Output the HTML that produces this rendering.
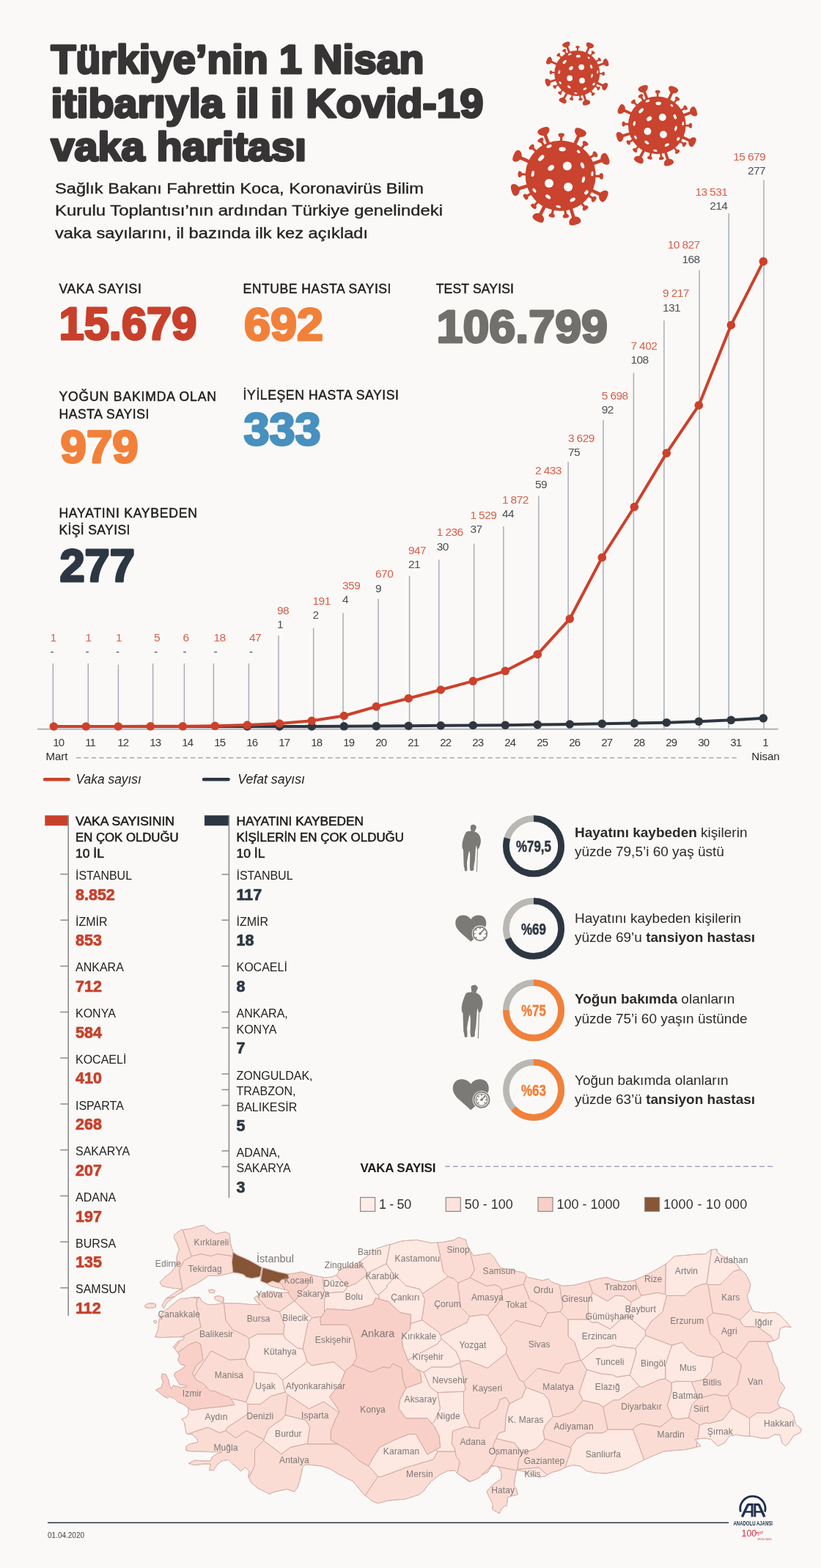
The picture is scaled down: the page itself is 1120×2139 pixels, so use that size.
<!DOCTYPE html>
<html lang="tr"><head><meta charset="utf-8"><title>Türkiye'nin 1 Nisan itibarıyla il il Kovid-19 vaka haritası</title>
<style>html,body{margin:0;padding:0;background:#faf9f7;}#page{position:relative;width:1120px;height:2139px;overflow:hidden;background:#faf9f7;font-family:"Liberation Sans",sans-serif;}</style>
</head><body><div id="page"><svg width="1120" height="2139" viewBox="0 0 1120 2139" style="position:absolute;left:0;top:0"><defs><symbol id="vir" viewBox="-75 -75 150 150" overflow="visible"><g fill="#c9432e"><g transform="rotate(-110.7)"><rect x="40" y="-2.3" width="22" height="4.6"/><path d="M59 -2.3 Q61.5 -8.5 66.5 -8.3 Q70 -7.8 70 0 Q70 7.8 66.5 8.3 Q61.5 8.5 59 2.3Z"/></g><g transform="rotate(-65.5)"><rect x="40" y="-2.3" width="22" height="4.6"/><path d="M59 -2.3 Q61.5 -8.5 66.5 -8.3 Q70 -7.8 70 0 Q70 7.8 66.5 8.3 Q61.5 8.5 59 2.3Z"/></g><g transform="rotate(-155.8)"><rect x="40" y="-2.3" width="22" height="4.6"/><path d="M59 -2.3 Q61.5 -8.5 66.5 -8.3 Q70 -7.8 70 0 Q70 7.8 66.5 8.3 Q61.5 8.5 59 2.3Z"/></g><g transform="rotate(-20.4)"><rect x="40" y="-2.3" width="22" height="4.6"/><path d="M59 -2.3 Q61.5 -8.5 66.5 -8.3 Q70 -7.8 70 0 Q70 7.8 66.5 8.3 Q61.5 8.5 59 2.3Z"/></g><g transform="rotate(162.8)"><rect x="40" y="-2.3" width="22" height="4.6"/><path d="M59 -2.3 Q61.5 -8.5 66.5 -8.3 Q70 -7.8 70 0 Q70 7.8 66.5 8.3 Q61.5 8.5 59 2.3Z"/></g><g transform="rotate(25.3)"><rect x="40" y="-2.3" width="22" height="4.6"/><path d="M59 -2.3 Q61.5 -8.5 66.5 -8.3 Q70 -7.8 70 0 Q70 7.8 66.5 8.3 Q61.5 8.5 59 2.3Z"/></g><g transform="rotate(117.6)"><rect x="40" y="-2.3" width="22" height="4.6"/><path d="M59 -2.3 Q61.5 -8.5 66.5 -8.3 Q70 -7.8 70 0 Q70 7.8 66.5 8.3 Q61.5 8.5 59 2.3Z"/></g><g transform="rotate(72.6)"><rect x="40" y="-2.3" width="22" height="4.6"/><path d="M59 -2.3 Q61.5 -8.5 66.5 -8.3 Q70 -7.8 70 0 Q70 7.8 66.5 8.3 Q61.5 8.5 59 2.3Z"/></g><g transform="rotate(-88.9)"><rect x="40" y="-1.6" width="14.5" height="3.2"/><path d="M52.5 -1.4 Q53.5 -4.3 56.2 -4.3 Q58.2 -4 58.2 0 Q58.2 4 56.2 4.3 Q53.5 4.3 52.5 1.4Z"/></g><g transform="rotate(-119.2)"><rect x="40" y="-1.6" width="14.5" height="3.2"/><path d="M52.5 -1.4 Q53.5 -4.3 56.2 -4.3 Q58.2 -4 58.2 0 Q58.2 4 56.2 4.3 Q53.5 4.3 52.5 1.4Z"/></g><g transform="rotate(-135.2)"><rect x="40" y="-1.6" width="14.5" height="3.2"/><path d="M52.5 -1.4 Q53.5 -4.3 56.2 -4.3 Q58.2 -4 58.2 0 Q58.2 4 56.2 4.3 Q53.5 4.3 52.5 1.4Z"/></g><g transform="rotate(-52.5)"><rect x="40" y="-1.6" width="14.5" height="3.2"/><path d="M52.5 -1.4 Q53.5 -4.3 56.2 -4.3 Q58.2 -4 58.2 0 Q58.2 4 56.2 4.3 Q53.5 4.3 52.5 1.4Z"/></g><g transform="rotate(-31.7)"><rect x="40" y="-1.6" width="14.5" height="3.2"/><path d="M52.5 -1.4 Q53.5 -4.3 56.2 -4.3 Q58.2 -4 58.2 0 Q58.2 4 56.2 4.3 Q53.5 4.3 52.5 1.4Z"/></g><g transform="rotate(-177.9)"><rect x="40" y="-1.6" width="14.5" height="3.2"/><path d="M52.5 -1.4 Q53.5 -4.3 56.2 -4.3 Q58.2 -4 58.2 0 Q58.2 4 56.2 4.3 Q53.5 4.3 52.5 1.4Z"/></g><g transform="rotate(0.7)"><rect x="40" y="-1.6" width="14.5" height="3.2"/><path d="M52.5 -1.4 Q53.5 -4.3 56.2 -4.3 Q58.2 -4 58.2 0 Q58.2 4 56.2 4.3 Q53.5 4.3 52.5 1.4Z"/></g><g transform="rotate(148.8)"><rect x="40" y="-1.6" width="14.5" height="3.2"/><path d="M52.5 -1.4 Q53.5 -4.3 56.2 -4.3 Q58.2 -4 58.2 0 Q58.2 4 56.2 4.3 Q53.5 4.3 52.5 1.4Z"/></g><g transform="rotate(35.1)"><rect x="40" y="-1.6" width="14.5" height="3.2"/><path d="M52.5 -1.4 Q53.5 -4.3 56.2 -4.3 Q58.2 -4 58.2 0 Q58.2 4 56.2 4.3 Q53.5 4.3 52.5 1.4Z"/></g><g transform="rotate(131.2)"><rect x="40" y="-1.6" width="14.5" height="3.2"/><path d="M52.5 -1.4 Q53.5 -4.3 56.2 -4.3 Q58.2 -4 58.2 0 Q58.2 4 56.2 4.3 Q53.5 4.3 52.5 1.4Z"/></g><g transform="rotate(52.5)"><rect x="40" y="-1.6" width="14.5" height="3.2"/><path d="M52.5 -1.4 Q53.5 -4.3 56.2 -4.3 Q58.2 -4 58.2 0 Q58.2 4 56.2 4.3 Q53.5 4.3 52.5 1.4Z"/></g><g transform="rotate(102.4)"><rect x="40" y="-1.6" width="14.5" height="3.2"/><path d="M52.5 -1.4 Q53.5 -4.3 56.2 -4.3 Q58.2 -4 58.2 0 Q58.2 4 56.2 4.3 Q53.5 4.3 52.5 1.4Z"/></g><g transform="rotate(82.5)"><rect x="40" y="-1.6" width="14.5" height="3.2"/><path d="M52.5 -1.4 Q53.5 -4.3 56.2 -4.3 Q58.2 -4 58.2 0 Q58.2 4 56.2 4.3 Q53.5 4.3 52.5 1.4Z"/></g><circle r="48"/></g><g fill="#fbfaf8"><ellipse cx="9.11" cy="-13.12" rx="6.03" ry="6.03" transform="rotate(0 9.11 -13.12)"/><ellipse cx="-15.67" cy="10.31" rx="6.03" ry="6.03" transform="rotate(0 -15.67 10.31)"/><ellipse cx="10.45" cy="15.40" rx="6.03" ry="6.03" transform="rotate(0 10.45 15.40)"/><ellipse cx="-12.99" cy="-10.71" rx="4.82" ry="3.48" transform="rotate(-35 -12.99 -10.71)"/><ellipse cx="2.41" cy="-36.16" rx="4.69" ry="2.95" transform="rotate(0 2.41 -36.16)"/><ellipse cx="-15.67" cy="-40.18" rx="3.75" ry="2.01" transform="rotate(-20 -15.67 -40.18)"/><ellipse cx="-26.38" cy="-24.11" rx="5.09" ry="2.68" transform="rotate(-45 -26.38 -24.11)"/><ellipse cx="24.51" cy="-32.81" rx="2.68" ry="1.74" transform="rotate(40 24.51 -32.81)"/><ellipse cx="29.86" cy="-14.06" rx="2.28" ry="4.29" transform="rotate(-20 29.86 -14.06)"/><ellipse cx="-37.77" cy="-2.68" rx="2.01" ry="4.02" transform="rotate(10 -37.77 -2.68)"/><ellipse cx="43.26" cy="-2.68" rx="1.61" ry="3.35" transform="rotate(5 43.26 -2.68)"/><ellipse cx="31.20" cy="5.36" rx="2.01" ry="4.29" transform="rotate(15 31.20 5.36)"/><ellipse cx="-35.76" cy="20.09" rx="1.87" ry="3.35" transform="rotate(-35 -35.76 20.09)"/><ellipse cx="35.22" cy="22.77" rx="2.28" ry="3.35" transform="rotate(40 35.22 22.77)"/><ellipse cx="-17.01" cy="28.79" rx="4.02" ry="2.28" transform="rotate(35 -17.01 28.79)"/><ellipse cx="16.47" cy="32.81" rx="4.02" ry="2.28" transform="rotate(-30 16.47 32.81)"/><ellipse cx="-2.95" cy="42.19" rx="3.35" ry="1.74" transform="rotate(10 -2.95 42.19)"/></g></symbol></defs><use href="#vir" x="738.86" y="51.56" width="96.88" height="96.88"/><use href="#vir" x="834.74" y="109.24" width="123.12" height="123.12"/><use href="#vir" x="689.70" y="164.70" width="150.00" height="150.00"/><text x="69.5" y="100.4" style="font-family:Liberation Sans,sans-serif;font-weight:bold;font-size:56px;fill:#363435;stroke:#363435;stroke-width:3.2px;stroke-linejoin:round" textLength="509" lengthAdjust="spacingAndGlyphs">Türkiye&#8217;nin 1 Nisan</text><text x="69.5" y="160" style="font-family:Liberation Sans,sans-serif;font-weight:bold;font-size:56px;fill:#363435;stroke:#363435;stroke-width:3.2px;stroke-linejoin:round" textLength="590" lengthAdjust="spacingAndGlyphs">itibarıyla il il Kovid-19</text><text x="69.5" y="219.3" style="font-family:Liberation Sans,sans-serif;font-weight:bold;font-size:56px;fill:#363435;stroke:#363435;stroke-width:3.2px;stroke-linejoin:round" textLength="348.5" lengthAdjust="spacingAndGlyphs">vaka haritası</text><text x="75" y="264" style="font-family:Liberation Sans,sans-serif;font-size:20.5px;fill:#232323;stroke:#232323;stroke-width:0.35px" textLength="503" lengthAdjust="spacingAndGlyphs">Sağlık Bakanı Fahrettin Koca, Koronavirüs Bilim</text><text x="75" y="294.3" style="font-family:Liberation Sans,sans-serif;font-size:20.5px;fill:#232323;stroke:#232323;stroke-width:0.35px" textLength="529" lengthAdjust="spacingAndGlyphs">Kurulu Toplantısı&#8217;nın ardından Türkiye genelindeki</text><text x="75" y="324.6" style="font-family:Liberation Sans,sans-serif;font-size:20.5px;fill:#232323;stroke:#232323;stroke-width:0.35px" textLength="427" lengthAdjust="spacingAndGlyphs">vaka sayılarını, il bazında ilk kez açıkladı</text><text x="80.4" y="400" style="font-family:Liberation Sans,sans-serif;font-size:17.6px;fill:#1c1c1c;stroke:#1c1c1c;stroke-width:0.45px" textLength="112.6" lengthAdjust="spacing">VAKA SAYISI</text><text x="80.5" y="463.2" style="font-family:Liberation Sans,sans-serif;font-weight:bold;font-size:62.5px;fill:#c8402b;stroke:#c8402b;stroke-width:3px;stroke-linejoin:round" textLength="188" lengthAdjust="spacingAndGlyphs">15.679</text><text x="331.6" y="400" style="font-family:Liberation Sans,sans-serif;font-size:17.6px;fill:#1c1c1c;stroke:#1c1c1c;stroke-width:0.45px" textLength="201.9" lengthAdjust="spacing">ENTUBE HASTA SAYISI</text><text x="333" y="464.4" style="font-family:Liberation Sans,sans-serif;font-weight:bold;font-size:62.5px;fill:#f1813a;stroke:#f1813a;stroke-width:3px;stroke-linejoin:round" textLength="108" lengthAdjust="spacingAndGlyphs">692</text><text x="594.7" y="400" style="font-family:Liberation Sans,sans-serif;font-size:17.6px;fill:#1c1c1c;stroke:#1c1c1c;stroke-width:0.45px" textLength="106.3" lengthAdjust="spacing">TEST SAYISI</text><text x="595.5" y="466.7" style="font-family:Liberation Sans,sans-serif;font-weight:bold;font-size:62.5px;fill:#71706c;stroke:#71706c;stroke-width:3px;stroke-linejoin:round" textLength="233.5" lengthAdjust="spacingAndGlyphs">106.799</text><text x="80.4" y="547.2" style="font-family:Liberation Sans,sans-serif;font-size:17.6px;fill:#1c1c1c;stroke:#1c1c1c;stroke-width:0.45px" textLength="214.6" lengthAdjust="spacing">YOĞUN BAKIMDA OLAN</text><text x="80.4" y="570.6" style="font-family:Liberation Sans,sans-serif;font-size:17.6px;fill:#1c1c1c;stroke:#1c1c1c;stroke-width:0.45px" textLength="123" lengthAdjust="spacing">HASTA SAYISI</text><text x="82.6" y="631" style="font-family:Liberation Sans,sans-serif;font-weight:bold;font-size:62.5px;fill:#f1813a;stroke:#f1813a;stroke-width:3px;stroke-linejoin:round" textLength="106" lengthAdjust="spacingAndGlyphs">979</text><text x="331.6" y="545" style="font-family:Liberation Sans,sans-serif;font-size:17.6px;fill:#1c1c1c;stroke:#1c1c1c;stroke-width:0.45px" textLength="212.4" lengthAdjust="spacing">İYİLEŞEN HASTA SAYISI</text><text x="332.6" y="607" style="font-family:Liberation Sans,sans-serif;font-weight:bold;font-size:62.5px;fill:#4790bf;stroke:#4790bf;stroke-width:3px;stroke-linejoin:round" textLength="105" lengthAdjust="spacingAndGlyphs">333</text><text x="80.4" y="705.5" style="font-family:Liberation Sans,sans-serif;font-size:17.6px;fill:#1c1c1c;stroke:#1c1c1c;stroke-width:0.45px" textLength="188.6" lengthAdjust="spacing">HAYATINI KAYBEDEN</text><text x="80.4" y="729.4" style="font-family:Liberation Sans,sans-serif;font-size:17.6px;fill:#1c1c1c;stroke:#1c1c1c;stroke-width:0.45px" textLength="97" lengthAdjust="spacing">KİŞİ SAYISI</text><text x="81.4" y="792.6" style="font-family:Liberation Sans,sans-serif;font-weight:bold;font-size:62.5px;fill:#2d3743;stroke:#2d3743;stroke-width:3px;stroke-linejoin:round" textLength="102.6" lengthAdjust="spacingAndGlyphs">277</text><line x1="72.3" y1="905" x2="72.3" y2="994.5" stroke="#a7adb8" stroke-width="1.5"/><line x1="120.3" y1="905" x2="120.3" y2="994.5" stroke="#a7adb8" stroke-width="1.5"/><line x1="161.4" y1="906.6" x2="161.4" y2="994.5" stroke="#a7adb8" stroke-width="1.5"/><line x1="208.6" y1="905" x2="208.6" y2="994.5" stroke="#a7adb8" stroke-width="1.5"/><line x1="251.4" y1="905" x2="251.4" y2="994.5" stroke="#a7adb8" stroke-width="1.5"/><line x1="291.4" y1="905" x2="291.4" y2="994.5" stroke="#a7adb8" stroke-width="1.5"/><line x1="339.4" y1="905" x2="339.4" y2="994.5" stroke="#a7adb8" stroke-width="1.5"/><line x1="380" y1="867" x2="380" y2="994.5" stroke="#a7adb8" stroke-width="1.5"/><line x1="427.7" y1="856.6" x2="427.7" y2="994.5" stroke="#a7adb8" stroke-width="1.5"/><line x1="468" y1="836" x2="468" y2="994.5" stroke="#a7adb8" stroke-width="1.5"/><line x1="516" y1="816.8" x2="516" y2="994.5" stroke="#a7adb8" stroke-width="1.5"/><line x1="558.6" y1="785.7" x2="558.6" y2="994.5" stroke="#a7adb8" stroke-width="1.5"/><line x1="598.8" y1="763.4" x2="598.8" y2="994.5" stroke="#a7adb8" stroke-width="1.5"/><line x1="646.6" y1="741.4" x2="646.6" y2="994.5" stroke="#a7adb8" stroke-width="1.5"/><line x1="686.9" y1="718" x2="686.9" y2="994.5" stroke="#a7adb8" stroke-width="1.5"/><line x1="734.9" y1="676.6" x2="734.9" y2="994.5" stroke="#a7adb8" stroke-width="1.5"/><line x1="775.1" y1="630" x2="775.1" y2="994.5" stroke="#a7adb8" stroke-width="1.5"/><line x1="822.9" y1="573" x2="822.9" y2="994.5" stroke="#a7adb8" stroke-width="1.5"/><line x1="864.4" y1="508.4" x2="864.4" y2="994.5" stroke="#a7adb8" stroke-width="1.5"/><line x1="905.9" y1="437.2" x2="905.9" y2="994.5" stroke="#a7adb8" stroke-width="1.5"/><line x1="954.1" y1="368.2" x2="954.1" y2="994.5" stroke="#a7adb8" stroke-width="1.5"/><line x1="994.2" y1="290.9" x2="994.2" y2="994.5" stroke="#a7adb8" stroke-width="1.5"/><line x1="1042" y1="245.4" x2="1042" y2="994.5" stroke="#a7adb8" stroke-width="1.5"/><line x1="51" y1="994.6" x2="1061.5" y2="994.6" stroke="#a3a9b4" stroke-width="1.6"/><polyline points="73.3,991.0 117.3,991.0 161.3,991.0 205.3,991.0 249.3,991.0 293.3,991.0 337.3,991.0 381.3,991.0 425.3,990.9 469.3,990.8 513.3,990.6 557.3,990.2 601.3,989.8 645.3,989.5 689.3,989.2 733.3,988.6 777.3,988.0 821.3,987.3 865.3,986.6 909.3,985.7 953.3,984.2 997.3,982.3 1041.3,979.8" fill="none" stroke="#2e3640" stroke-width="4" stroke-linejoin="round"/><g fill="#2e3640"><circle cx="337.3" cy="991.0" r="5.8"/><circle cx="381.3" cy="991.0" r="5.8"/><circle cx="425.3" cy="990.9" r="5.8"/><circle cx="469.3" cy="990.8" r="5.8"/><circle cx="513.3" cy="990.6" r="5.8"/><circle cx="557.3" cy="990.2" r="5.8"/><circle cx="601.3" cy="989.8" r="5.8"/><circle cx="645.3" cy="989.5" r="5.8"/><circle cx="689.3" cy="989.2" r="5.8"/><circle cx="733.3" cy="988.6" r="5.8"/><circle cx="777.3" cy="988.0" r="5.8"/><circle cx="821.3" cy="987.3" r="5.8"/><circle cx="865.3" cy="986.6" r="5.8"/><circle cx="909.3" cy="985.7" r="5.8"/><circle cx="953.3" cy="984.2" r="5.8"/><circle cx="997.3" cy="982.3" r="5.8"/><circle cx="1041.3" cy="979.8" r="5.8"/></g><polyline points="73.3,991.0 117.3,991.0 161.3,991.0 205.3,990.8 249.3,990.8 293.3,990.3 337.3,989.1 381.3,987.0 425.3,983.3 469.3,976.5 513.3,963.9 557.3,952.7 601.3,941.0 645.3,929.1 689.3,915.3 733.3,892.6 777.3,844.2 821.3,760.5 865.3,691.5 909.3,618.1 953.3,552.9 997.3,443.5 1041.3,356.6" fill="none" stroke="#cc412b" stroke-width="4" stroke-linejoin="round"/><g fill="#cc412b"><circle cx="73.3" cy="991.0" r="5.8"/><circle cx="117.3" cy="991.0" r="5.8"/><circle cx="161.3" cy="991.0" r="5.8"/><circle cx="205.3" cy="990.8" r="5.8"/><circle cx="249.3" cy="990.8" r="5.8"/><circle cx="293.3" cy="990.3" r="5.8"/><circle cx="337.3" cy="989.1" r="5.8"/><circle cx="381.3" cy="987.0" r="5.8"/><circle cx="425.3" cy="983.3" r="5.8"/><circle cx="469.3" cy="976.5" r="5.8"/><circle cx="513.3" cy="963.9" r="5.8"/><circle cx="557.3" cy="952.7" r="5.8"/><circle cx="601.3" cy="941.0" r="5.8"/><circle cx="645.3" cy="929.1" r="5.8"/><circle cx="689.3" cy="915.3" r="5.8"/><circle cx="733.3" cy="892.6" r="5.8"/><circle cx="777.3" cy="844.2" r="5.8"/><circle cx="821.3" cy="760.5" r="5.8"/><circle cx="865.3" cy="691.5" r="5.8"/><circle cx="909.3" cy="618.1" r="5.8"/><circle cx="953.3" cy="552.9" r="5.8"/><circle cx="997.3" cy="443.5" r="5.8"/><circle cx="1041.3" cy="356.6" r="5.8"/></g><text x="68.6" y="875" text-anchor="start" style="font-family:Liberation Sans,sans-serif;font-size:15.5px;fill:#d95f4a;letter-spacing:-0.6px">1</text><text x="68.6" y="894.2" text-anchor="start" style="font-family:Liberation Sans,sans-serif;font-size:15.5px;fill:#4a4f56;letter-spacing:-0.6px">-</text><text x="116.6" y="875" text-anchor="start" style="font-family:Liberation Sans,sans-serif;font-size:15.5px;fill:#d95f4a;letter-spacing:-0.6px">1</text><text x="116.6" y="894.2" text-anchor="start" style="font-family:Liberation Sans,sans-serif;font-size:15.5px;fill:#4a4f56;letter-spacing:-0.6px">-</text><text x="158" y="875" text-anchor="start" style="font-family:Liberation Sans,sans-serif;font-size:15.5px;fill:#d95f4a;letter-spacing:-0.6px">1</text><text x="158" y="894.2" text-anchor="start" style="font-family:Liberation Sans,sans-serif;font-size:15.5px;fill:#4a4f56;letter-spacing:-0.6px">-</text><text x="210" y="875" text-anchor="start" style="font-family:Liberation Sans,sans-serif;font-size:15.5px;fill:#d95f4a;letter-spacing:-0.6px">5</text><text x="210" y="894.2" text-anchor="start" style="font-family:Liberation Sans,sans-serif;font-size:15.5px;fill:#4a4f56;letter-spacing:-0.6px">-</text><text x="249.5" y="875" text-anchor="start" style="font-family:Liberation Sans,sans-serif;font-size:15.5px;fill:#d95f4a;letter-spacing:-0.6px">6</text><text x="249.5" y="894.2" text-anchor="start" style="font-family:Liberation Sans,sans-serif;font-size:15.5px;fill:#4a4f56;letter-spacing:-0.6px">-</text><text x="291.4" y="875" text-anchor="start" style="font-family:Liberation Sans,sans-serif;font-size:15.5px;fill:#d95f4a;letter-spacing:-0.6px">18</text><text x="291.4" y="894.2" text-anchor="start" style="font-family:Liberation Sans,sans-serif;font-size:15.5px;fill:#4a4f56;letter-spacing:-0.6px">-</text><text x="340" y="875" text-anchor="start" style="font-family:Liberation Sans,sans-serif;font-size:15.5px;fill:#d95f4a;letter-spacing:-0.6px">47</text><text x="340" y="894.2" text-anchor="start" style="font-family:Liberation Sans,sans-serif;font-size:15.5px;fill:#4a4f56;letter-spacing:-0.6px">-</text><text x="378" y="837.7" text-anchor="start" style="font-family:Liberation Sans,sans-serif;font-size:15.5px;fill:#d95f4a;letter-spacing:-0.6px">98</text><text x="378" y="856.9000000000001" text-anchor="start" style="font-family:Liberation Sans,sans-serif;font-size:15.5px;fill:#4a4f56;letter-spacing:-0.6px">1</text><text x="426.6" y="825" text-anchor="start" style="font-family:Liberation Sans,sans-serif;font-size:15.5px;fill:#d95f4a;letter-spacing:-0.6px">191</text><text x="426.6" y="844.2" text-anchor="start" style="font-family:Liberation Sans,sans-serif;font-size:15.5px;fill:#4a4f56;letter-spacing:-0.6px">2</text><text x="467.1" y="803.6" text-anchor="start" style="font-family:Liberation Sans,sans-serif;font-size:15.5px;fill:#d95f4a;letter-spacing:-0.6px">359</text><text x="467.1" y="822.8000000000001" text-anchor="start" style="font-family:Liberation Sans,sans-serif;font-size:15.5px;fill:#4a4f56;letter-spacing:-0.6px">4</text><text x="512.1" y="788.3" text-anchor="start" style="font-family:Liberation Sans,sans-serif;font-size:15.5px;fill:#d95f4a;letter-spacing:-0.6px">670</text><text x="512.1" y="807.5" text-anchor="start" style="font-family:Liberation Sans,sans-serif;font-size:15.5px;fill:#4a4f56;letter-spacing:-0.6px">9</text><text x="557" y="755.7" text-anchor="start" style="font-family:Liberation Sans,sans-serif;font-size:15.5px;fill:#d95f4a;letter-spacing:-0.6px">947</text><text x="557" y="774.9000000000001" text-anchor="start" style="font-family:Liberation Sans,sans-serif;font-size:15.5px;fill:#4a4f56;letter-spacing:-0.6px">21</text><text x="595.7" y="731.4" text-anchor="start" style="font-family:Liberation Sans,sans-serif;font-size:15.5px;fill:#d95f4a;letter-spacing:-0.6px">1 236</text><text x="595.7" y="750.6" text-anchor="start" style="font-family:Liberation Sans,sans-serif;font-size:15.5px;fill:#4a4f56;letter-spacing:-0.6px">30</text><text x="641.4" y="707.7" text-anchor="start" style="font-family:Liberation Sans,sans-serif;font-size:15.5px;fill:#d95f4a;letter-spacing:-0.6px">1 529</text><text x="641.4" y="726.9000000000001" text-anchor="start" style="font-family:Liberation Sans,sans-serif;font-size:15.5px;fill:#4a4f56;letter-spacing:-0.6px">37</text><text x="684.9" y="687" text-anchor="start" style="font-family:Liberation Sans,sans-serif;font-size:15.5px;fill:#d95f4a;letter-spacing:-0.6px">1 872</text><text x="684.9" y="706.2" text-anchor="start" style="font-family:Liberation Sans,sans-serif;font-size:15.5px;fill:#4a4f56;letter-spacing:-0.6px">44</text><text x="730" y="646.6" text-anchor="start" style="font-family:Liberation Sans,sans-serif;font-size:15.5px;fill:#d95f4a;letter-spacing:-0.6px">2 433</text><text x="730" y="665.8000000000001" text-anchor="start" style="font-family:Liberation Sans,sans-serif;font-size:15.5px;fill:#4a4f56;letter-spacing:-0.6px">59</text><text x="774.9" y="602.9" text-anchor="start" style="font-family:Liberation Sans,sans-serif;font-size:15.5px;fill:#d95f4a;letter-spacing:-0.6px">3 629</text><text x="774.9" y="622.1" text-anchor="start" style="font-family:Liberation Sans,sans-serif;font-size:15.5px;fill:#4a4f56;letter-spacing:-0.6px">75</text><text x="820.7" y="545.1" text-anchor="start" style="font-family:Liberation Sans,sans-serif;font-size:15.5px;fill:#d95f4a;letter-spacing:-0.6px">5 698</text><text x="820.7" y="564.3000000000001" text-anchor="start" style="font-family:Liberation Sans,sans-serif;font-size:15.5px;fill:#4a4f56;letter-spacing:-0.6px">92</text><text x="860.4" y="476.8" text-anchor="start" style="font-family:Liberation Sans,sans-serif;font-size:15.5px;fill:#d95f4a;letter-spacing:-0.6px">7 402</text><text x="860.4" y="496.0" text-anchor="start" style="font-family:Liberation Sans,sans-serif;font-size:15.5px;fill:#4a4f56;letter-spacing:-0.6px">108</text><text x="904" y="405.3" text-anchor="start" style="font-family:Liberation Sans,sans-serif;font-size:15.5px;fill:#d95f4a;letter-spacing:-0.6px">9 217</text><text x="904" y="424.5" text-anchor="start" style="font-family:Liberation Sans,sans-serif;font-size:15.5px;fill:#4a4f56;letter-spacing:-0.6px">131</text><text x="954.5" y="339.4" text-anchor="end" style="font-family:Liberation Sans,sans-serif;font-size:15.5px;fill:#d95f4a;letter-spacing:-0.6px">10 827</text><text x="954.5" y="358.59999999999997" text-anchor="end" style="font-family:Liberation Sans,sans-serif;font-size:15.5px;fill:#4a4f56;letter-spacing:-0.6px">168</text><text x="992.2" y="266.6" text-anchor="end" style="font-family:Liberation Sans,sans-serif;font-size:15.5px;fill:#d95f4a;letter-spacing:-0.6px">13 531</text><text x="992.2" y="285.8" text-anchor="end" style="font-family:Liberation Sans,sans-serif;font-size:15.5px;fill:#4a4f56;letter-spacing:-0.6px">214</text><text x="1044" y="219" text-anchor="end" style="font-family:Liberation Sans,sans-serif;font-size:15.5px;fill:#d95f4a;letter-spacing:-0.6px">15 679</text><text x="1044" y="238.2" text-anchor="end" style="font-family:Liberation Sans,sans-serif;font-size:15.5px;fill:#4a4f56;letter-spacing:-0.6px">277</text><text x="72.3" y="1018.2" style="font-family:Liberation Sans,sans-serif;font-size:15px;fill:#3a3a3a;letter-spacing:-1px">10</text><text x="116.3" y="1018.2" style="font-family:Liberation Sans,sans-serif;font-size:15px;fill:#3a3a3a;letter-spacing:-1px">11</text><text x="160.3" y="1018.2" style="font-family:Liberation Sans,sans-serif;font-size:15px;fill:#3a3a3a;letter-spacing:-1px">12</text><text x="204.3" y="1018.2" style="font-family:Liberation Sans,sans-serif;font-size:15px;fill:#3a3a3a;letter-spacing:-1px">13</text><text x="248.3" y="1018.2" style="font-family:Liberation Sans,sans-serif;font-size:15px;fill:#3a3a3a;letter-spacing:-1px">14</text><text x="292.3" y="1018.2" style="font-family:Liberation Sans,sans-serif;font-size:15px;fill:#3a3a3a;letter-spacing:-1px">15</text><text x="336.3" y="1018.2" style="font-family:Liberation Sans,sans-serif;font-size:15px;fill:#3a3a3a;letter-spacing:-1px">16</text><text x="380.3" y="1018.2" style="font-family:Liberation Sans,sans-serif;font-size:15px;fill:#3a3a3a;letter-spacing:-1px">17</text><text x="424.3" y="1018.2" style="font-family:Liberation Sans,sans-serif;font-size:15px;fill:#3a3a3a;letter-spacing:-1px">18</text><text x="468.3" y="1018.2" style="font-family:Liberation Sans,sans-serif;font-size:15px;fill:#3a3a3a;letter-spacing:-1px">19</text><text x="512.3" y="1018.2" style="font-family:Liberation Sans,sans-serif;font-size:15px;fill:#3a3a3a;letter-spacing:-1px">20</text><text x="556.3" y="1018.2" style="font-family:Liberation Sans,sans-serif;font-size:15px;fill:#3a3a3a;letter-spacing:-1px">21</text><text x="600.3" y="1018.2" style="font-family:Liberation Sans,sans-serif;font-size:15px;fill:#3a3a3a;letter-spacing:-1px">22</text><text x="644.3" y="1018.2" style="font-family:Liberation Sans,sans-serif;font-size:15px;fill:#3a3a3a;letter-spacing:-1px">23</text><text x="688.3" y="1018.2" style="font-family:Liberation Sans,sans-serif;font-size:15px;fill:#3a3a3a;letter-spacing:-1px">24</text><text x="732.3" y="1018.2" style="font-family:Liberation Sans,sans-serif;font-size:15px;fill:#3a3a3a;letter-spacing:-1px">25</text><text x="776.3" y="1018.2" style="font-family:Liberation Sans,sans-serif;font-size:15px;fill:#3a3a3a;letter-spacing:-1px">26</text><text x="820.3" y="1018.2" style="font-family:Liberation Sans,sans-serif;font-size:15px;fill:#3a3a3a;letter-spacing:-1px">27</text><text x="864.3" y="1018.2" style="font-family:Liberation Sans,sans-serif;font-size:15px;fill:#3a3a3a;letter-spacing:-1px">28</text><text x="908.3" y="1018.2" style="font-family:Liberation Sans,sans-serif;font-size:15px;fill:#3a3a3a;letter-spacing:-1px">29</text><text x="952.3" y="1018.2" style="font-family:Liberation Sans,sans-serif;font-size:15px;fill:#3a3a3a;letter-spacing:-1px">30</text><text x="996.3" y="1018.2" style="font-family:Liberation Sans,sans-serif;font-size:15px;fill:#3a3a3a;letter-spacing:-1px">31</text><text x="1040.3" y="1018.2" style="font-family:Liberation Sans,sans-serif;font-size:15px;fill:#3a3a3a;letter-spacing:-1px">1</text><text x="62.5" y="1037" style="font-family:Liberation Sans,sans-serif;font-size:15px;fill:#2a2a2a">Mart</text><text x="1025.3" y="1036.5" style="font-family:Liberation Sans,sans-serif;font-size:15px;fill:#2a2a2a">Nisan</text><line x1="104" y1="1033.8" x2="1008.5" y2="1033.8" stroke="#a9a9a9" stroke-width="1.6" stroke-dasharray="6.4 4"/><line x1="61" y1="1063.2" x2="93.6" y2="1063.2" stroke="#cc412b" stroke-width="4.4" stroke-linecap="round"/><line x1="278" y1="1063.2" x2="311.6" y2="1063.2" stroke="#2e3640" stroke-width="4.4" stroke-linecap="round"/><text x="103.6" y="1069.3" style="font-family:Liberation Sans,sans-serif;font-style:italic;font-size:19px;fill:#222" textLength="89.3" lengthAdjust="spacingAndGlyphs">Vaka sayısı</text><text x="324.3" y="1069.3" style="font-family:Liberation Sans,sans-serif;font-style:italic;font-size:19px;fill:#222" textLength="91.7" lengthAdjust="spacingAndGlyphs">Vefat sayısı</text><rect x="61.3" y="1112.3" width="32" height="14" fill="#c8402b"/><line x1="93.2" y1="1112.3" x2="93.2" y2="1795" stroke="#8d8d8d" stroke-width="1.6"/><text x="103" y="1126.3" style="font-family:Liberation Sans,sans-serif;font-size:16px;fill:#1c1c1c;stroke:#1c1c1c;stroke-width:0.5px" textLength="135" lengthAdjust="spacingAndGlyphs">VAKA SAYISININ</text><text x="103" y="1148" style="font-family:Liberation Sans,sans-serif;font-size:16px;fill:#1c1c1c;stroke:#1c1c1c;stroke-width:0.5px" textLength="140.6" lengthAdjust="spacingAndGlyphs">EN ÇOK OLDUĞU</text><text x="103" y="1169.6" style="font-family:Liberation Sans,sans-serif;font-size:16px;fill:#1c1c1c;stroke:#1c1c1c;stroke-width:0.5px" textLength="39" lengthAdjust="spacingAndGlyphs">10 İL</text><line x1="82.2" y1="1192.5" x2="93" y2="1192.5" stroke="#8d8d8d" stroke-width="1.5"/><text x="103" y="1200.0" style="font-family:Liberation Sans,sans-serif;font-size:16px;fill:#222">İSTANBUL</text><text x="103" y="1227.6" style="font-family:Liberation Sans,sans-serif;font-weight:bold;font-size:21.5px;fill:#c8402b;stroke:#c8402b;stroke-width:0.7px">8.852</text><line x1="82.2" y1="1255.2" x2="93" y2="1255.2" stroke="#8d8d8d" stroke-width="1.5"/><text x="103" y="1262.7" style="font-family:Liberation Sans,sans-serif;font-size:16px;fill:#222">İZMİR</text><text x="103" y="1290.3" style="font-family:Liberation Sans,sans-serif;font-weight:bold;font-size:21.5px;fill:#c8402b;stroke:#c8402b;stroke-width:0.7px">853</text><line x1="82.2" y1="1317.9" x2="93" y2="1317.9" stroke="#8d8d8d" stroke-width="1.5"/><text x="103" y="1325.4" style="font-family:Liberation Sans,sans-serif;font-size:16px;fill:#222">ANKARA</text><text x="103" y="1353.0" style="font-family:Liberation Sans,sans-serif;font-weight:bold;font-size:21.5px;fill:#c8402b;stroke:#c8402b;stroke-width:0.7px">712</text><line x1="82.2" y1="1380.6" x2="93" y2="1380.6" stroke="#8d8d8d" stroke-width="1.5"/><text x="103" y="1388.1" style="font-family:Liberation Sans,sans-serif;font-size:16px;fill:#222">KONYA</text><text x="103" y="1415.7" style="font-family:Liberation Sans,sans-serif;font-weight:bold;font-size:21.5px;fill:#c8402b;stroke:#c8402b;stroke-width:0.7px">584</text><line x1="82.2" y1="1443.3" x2="93" y2="1443.3" stroke="#8d8d8d" stroke-width="1.5"/><text x="103" y="1450.8" style="font-family:Liberation Sans,sans-serif;font-size:16px;fill:#222">KOCAELİ</text><text x="103" y="1478.4" style="font-family:Liberation Sans,sans-serif;font-weight:bold;font-size:21.5px;fill:#c8402b;stroke:#c8402b;stroke-width:0.7px">410</text><line x1="82.2" y1="1506.0" x2="93" y2="1506.0" stroke="#8d8d8d" stroke-width="1.5"/><text x="103" y="1513.5" style="font-family:Liberation Sans,sans-serif;font-size:16px;fill:#222">ISPARTA</text><text x="103" y="1541.1" style="font-family:Liberation Sans,sans-serif;font-weight:bold;font-size:21.5px;fill:#c8402b;stroke:#c8402b;stroke-width:0.7px">268</text><line x1="82.2" y1="1568.7" x2="93" y2="1568.7" stroke="#8d8d8d" stroke-width="1.5"/><text x="103" y="1576.2" style="font-family:Liberation Sans,sans-serif;font-size:16px;fill:#222">SAKARYA</text><text x="103" y="1603.8" style="font-family:Liberation Sans,sans-serif;font-weight:bold;font-size:21.5px;fill:#c8402b;stroke:#c8402b;stroke-width:0.7px">207</text><line x1="82.2" y1="1631.4" x2="93" y2="1631.4" stroke="#8d8d8d" stroke-width="1.5"/><text x="103" y="1638.9" style="font-family:Liberation Sans,sans-serif;font-size:16px;fill:#222">ADANA</text><text x="103" y="1666.5" style="font-family:Liberation Sans,sans-serif;font-weight:bold;font-size:21.5px;fill:#c8402b;stroke:#c8402b;stroke-width:0.7px">197</text><line x1="82.2" y1="1694.1" x2="93" y2="1694.1" stroke="#8d8d8d" stroke-width="1.5"/><text x="103" y="1701.6" style="font-family:Liberation Sans,sans-serif;font-size:16px;fill:#222">BURSA</text><text x="103" y="1729.2" style="font-family:Liberation Sans,sans-serif;font-weight:bold;font-size:21.5px;fill:#c8402b;stroke:#c8402b;stroke-width:0.7px">135</text><line x1="82.2" y1="1756.8" x2="93" y2="1756.8" stroke="#8d8d8d" stroke-width="1.5"/><text x="103" y="1764.3" style="font-family:Liberation Sans,sans-serif;font-size:16px;fill:#222">SAMSUN</text><text x="103" y="1791.9" style="font-family:Liberation Sans,sans-serif;font-weight:bold;font-size:21.5px;fill:#c8402b;stroke:#c8402b;stroke-width:0.7px">112</text><rect x="279" y="1112.3" width="33.5" height="14" fill="#2d3743"/><line x1="312.4" y1="1112.3" x2="312.4" y2="1634" stroke="#8d8d8d" stroke-width="1.6"/><text x="322.5" y="1126.3" style="font-family:Liberation Sans,sans-serif;font-size:16px;fill:#1c1c1c;stroke:#1c1c1c;stroke-width:0.5px" textLength="173.5" lengthAdjust="spacingAndGlyphs">HAYATINI KAYBEDEN</text><text x="322.5" y="1148" style="font-family:Liberation Sans,sans-serif;font-size:16px;fill:#1c1c1c;stroke:#1c1c1c;stroke-width:0.5px" textLength="228.5" lengthAdjust="spacingAndGlyphs">KİŞİLERİN EN ÇOK OLDUĞU</text><text x="322.5" y="1169.6" style="font-family:Liberation Sans,sans-serif;font-size:16px;fill:#1c1c1c;stroke:#1c1c1c;stroke-width:0.5px" textLength="39" lengthAdjust="spacingAndGlyphs">10 İL</text><line x1="302.5" y1="1192.8" x2="312.4" y2="1192.8" stroke="#8d8d8d" stroke-width="1.5"/><text x="322.5" y="1200.3" style="font-family:Liberation Sans,sans-serif;font-size:16px;fill:#222">İSTANBUL</text><text x="322.5" y="1227.9" style="font-family:Liberation Sans,sans-serif;font-weight:bold;font-size:21.5px;fill:#2d3743;stroke:#2d3743;stroke-width:0.7px">117</text><line x1="302.5" y1="1255.2" x2="312.4" y2="1255.2" stroke="#8d8d8d" stroke-width="1.5"/><text x="322.5" y="1262.7" style="font-family:Liberation Sans,sans-serif;font-size:16px;fill:#222">İZMİR</text><text x="322.5" y="1290.3" style="font-family:Liberation Sans,sans-serif;font-weight:bold;font-size:21.5px;fill:#2d3743;stroke:#2d3743;stroke-width:0.7px">18</text><line x1="302.5" y1="1317.9" x2="312.4" y2="1317.9" stroke="#8d8d8d" stroke-width="1.5"/><text x="322.5" y="1325.4" style="font-family:Liberation Sans,sans-serif;font-size:16px;fill:#222">KOCAELİ</text><text x="322.5" y="1353.0" style="font-family:Liberation Sans,sans-serif;font-weight:bold;font-size:21.5px;fill:#2d3743;stroke:#2d3743;stroke-width:0.7px">8</text><line x1="302.5" y1="1380.5" x2="312.4" y2="1380.5" stroke="#8d8d8d" stroke-width="1.5"/><text x="322.5" y="1388.0" style="font-family:Liberation Sans,sans-serif;font-size:16px;fill:#222">ANKARA,</text><line x1="302.5" y1="1402.0" x2="312.4" y2="1402.0" stroke="#8d8d8d" stroke-width="1.5"/><text x="322.5" y="1409.5" style="font-family:Liberation Sans,sans-serif;font-size:16px;fill:#222">KONYA</text><text x="322.5" y="1437.1" style="font-family:Liberation Sans,sans-serif;font-weight:bold;font-size:21.5px;fill:#2d3743;stroke:#2d3743;stroke-width:0.7px">7</text><line x1="302.5" y1="1465.0" x2="312.4" y2="1465.0" stroke="#8d8d8d" stroke-width="1.5"/><text x="322.5" y="1472.5" style="font-family:Liberation Sans,sans-serif;font-size:16px;fill:#222">ZONGULDAK,</text><line x1="302.5" y1="1486.5" x2="312.4" y2="1486.5" stroke="#8d8d8d" stroke-width="1.5"/><text x="322.5" y="1494.0" style="font-family:Liberation Sans,sans-serif;font-size:16px;fill:#222">TRABZON,</text><line x1="302.5" y1="1508.0" x2="312.4" y2="1508.0" stroke="#8d8d8d" stroke-width="1.5"/><text x="322.5" y="1515.5" style="font-family:Liberation Sans,sans-serif;font-size:16px;fill:#222">BALIKESİR</text><text x="322.5" y="1543.1" style="font-family:Liberation Sans,sans-serif;font-weight:bold;font-size:21.5px;fill:#2d3743;stroke:#2d3743;stroke-width:0.7px">5</text><line x1="302.5" y1="1570.0" x2="312.4" y2="1570.0" stroke="#8d8d8d" stroke-width="1.5"/><text x="322.5" y="1577.5" style="font-family:Liberation Sans,sans-serif;font-size:16px;fill:#222">ADANA,</text><line x1="302.5" y1="1591.5" x2="312.4" y2="1591.5" stroke="#8d8d8d" stroke-width="1.5"/><text x="322.5" y="1599.0" style="font-family:Liberation Sans,sans-serif;font-size:16px;fill:#222">SAKARYA</text><text x="322.5" y="1626.6" style="font-family:Liberation Sans,sans-serif;font-weight:bold;font-size:21.5px;fill:#2d3743;stroke:#2d3743;stroke-width:0.7px">3</text><g transform="translate(625 1120) scale(0.03571)" fill="#7b7a76"><path d="M480 380 L340 400 Q290 430 255 520 Q200 650 160 820 Q140 950 165 1050 L195 1095 L205 1400 L215 1700 L235 1790 Q245 1830 255 1895 Q290 1930 335 1905 Q352 1860 345 1790 L335 1600 L365 1400 L405 1200 L432 1140 L452 1260 L450 1500 L442 1750 Q450 1830 465 1895 Q530 1920 590 1885 Q605 1840 598 1760 L640 1500 L660 1220 L672 1010 L700 930 L712 1010 Q705 1050 735 1072 Q790 1070 800 1030 Q810 990 840 920 Q880 800 860 690 Q830 560 780 500 Q730 440 640 405 Z"/><path d="M470 195 Q515 140 580 135 Q660 140 700 230 Q690 290 655 340 L640 400 L495 385 Q478 320 475 250 Q462 215 470 195Z"/><path d="M742 1060 L712 1935" stroke="#8a8985" stroke-width="30" stroke-linecap="round"/></g><path transform="translate(642.3 1254.2) scale(1.000)" d="M0 0 C-3 -4.5 -7.5 -5.6 -11 -5.6 C-17 -5.6 -21 -1 -21 5 C-21 10 -18 14 -14 18 L0 30.3 L14 18 C18 14 21 10 21 5 C21 -1 17 -5.6 11 -5.6 C7.5 -5.6 3 -4.5 0 0Z" fill="#7b7a76"/><circle cx="654.9" cy="1273.7" r="11.1" fill="#fbfaf8"/><circle cx="654.9" cy="1273.7" r="9.4" fill="#fbfaf8" stroke="#7b7a76" stroke-width="1.7"/><line x1="663.50" y1="1273.70" x2="661.30" y2="1273.70" stroke="#7b7a76" stroke-width="1.5"/><line x1="660.98" y1="1279.78" x2="659.43" y2="1278.23" stroke="#7b7a76" stroke-width="1.5"/><line x1="648.82" y1="1279.78" x2="650.37" y2="1278.23" stroke="#7b7a76" stroke-width="1.5"/><line x1="646.30" y1="1273.70" x2="648.50" y2="1273.70" stroke="#7b7a76" stroke-width="1.5"/><line x1="648.82" y1="1267.62" x2="650.37" y2="1269.17" stroke="#7b7a76" stroke-width="1.5"/><line x1="654.90" y1="1265.10" x2="654.90" y2="1267.30" stroke="#7b7a76" stroke-width="1.5"/><line x1="660.98" y1="1267.62" x2="659.43" y2="1269.17" stroke="#7b7a76" stroke-width="1.5"/><line x1="654.9" y1="1273.7" x2="659.60" y2="1268.53" stroke="#7b7a76" stroke-width="1.7" stroke-linecap="round"/><circle cx="654.9" cy="1273.7" r="1.8" fill="#7b7a76"/><g transform="translate(623.6 1337.95) scale(0.04036)" fill="#7b7a76"><path d="M480 380 L340 400 Q290 430 255 520 Q200 650 160 820 Q140 950 165 1050 L195 1095 L205 1400 L215 1700 L235 1790 Q245 1830 255 1895 Q290 1930 335 1905 Q352 1860 345 1790 L335 1600 L365 1400 L405 1200 L432 1140 L452 1260 L450 1500 L442 1750 Q450 1830 465 1895 Q530 1920 590 1885 Q605 1840 598 1760 L640 1500 L660 1220 L672 1010 L700 930 L712 1010 Q705 1050 735 1072 Q790 1070 800 1030 Q810 990 840 920 Q880 800 860 690 Q830 560 780 500 Q730 440 640 405 Z"/><path d="M470 195 Q515 140 580 135 Q660 140 700 230 Q690 290 655 340 L640 400 L495 385 Q478 320 475 250 Q462 215 470 195Z"/><path d="M742 1060 L712 1935" stroke="#8a8985" stroke-width="30" stroke-linecap="round"/></g><path transform="translate(642.3 1478.8) scale(1.167)" d="M0 0 C-3 -4.5 -7.5 -5.6 -11 -5.6 C-17 -5.6 -21 -1 -21 5 C-21 10 -18 14 -14 18 L0 30.3 L14 18 C18 14 21 10 21 5 C21 -1 17 -5.6 11 -5.6 C7.5 -5.6 3 -4.5 0 0Z" fill="#7b7a76"/><circle cx="657" cy="1500.2" r="12.299999999999999" fill="#fbfaf8"/><circle cx="657" cy="1500.2" r="10.6" fill="#fbfaf8" stroke="#7b7a76" stroke-width="1.7"/><circle cx="657" cy="1500.2" r="8.0" fill="none" stroke="#7b7a76" stroke-width="1.1"/><line x1="664.20" y1="1500.20" x2="662.00" y2="1500.20" stroke="#7b7a76" stroke-width="1.5"/><line x1="662.09" y1="1505.29" x2="660.54" y2="1503.74" stroke="#7b7a76" stroke-width="1.5"/><line x1="651.91" y1="1505.29" x2="653.46" y2="1503.74" stroke="#7b7a76" stroke-width="1.5"/><line x1="649.80" y1="1500.20" x2="652.00" y2="1500.20" stroke="#7b7a76" stroke-width="1.5"/><line x1="651.91" y1="1495.11" x2="653.46" y2="1496.66" stroke="#7b7a76" stroke-width="1.5"/><line x1="657.00" y1="1493.00" x2="657.00" y2="1495.20" stroke="#7b7a76" stroke-width="1.5"/><line x1="662.09" y1="1495.11" x2="660.54" y2="1496.66" stroke="#7b7a76" stroke-width="1.5"/><line x1="657" y1="1500.2" x2="661.00" y2="1495.80" stroke="#7b7a76" stroke-width="1.7" stroke-linecap="round"/><circle cx="657" cy="1500.2" r="1.8" fill="#7b7a76"/><circle cx="728" cy="1154.2" r="37.6" fill="none" stroke="#b9b8b4" stroke-width="8.8"/><circle cx="728" cy="1154.2" r="37.6" fill="none" stroke="#2d3743" stroke-width="8.8" stroke-dasharray="187.82 236.25" transform="rotate(-90 728 1154.2)"/><text x="704.0" y="1162.2" style="font-family:Liberation Sans,sans-serif;font-weight:bold;font-size:22.5px;fill:#2d3743;stroke:#2d3743;stroke-width:0.5px" textLength="48" lengthAdjust="spacingAndGlyphs">%79,5</text><circle cx="728" cy="1266.8" r="37.6" fill="none" stroke="#b9b8b4" stroke-width="8.8"/><circle cx="728" cy="1266.8" r="37.6" fill="none" stroke="#2d3743" stroke-width="8.8" stroke-dasharray="163.01 236.25" transform="rotate(-90 728 1266.8)"/><text x="711.0" y="1274.8" style="font-family:Liberation Sans,sans-serif;font-weight:bold;font-size:22.5px;fill:#2d3743;stroke:#2d3743;stroke-width:0.5px" textLength="34" lengthAdjust="spacingAndGlyphs">%69</text><circle cx="728" cy="1378.2" r="37.6" fill="none" stroke="#b9b8b4" stroke-width="8.8"/><circle cx="728" cy="1378.2" r="37.6" fill="none" stroke="#f1813a" stroke-width="8.8" stroke-dasharray="177.19 236.25" transform="rotate(-90 728 1378.2)"/><text x="711.3" y="1386.2" style="font-family:Liberation Sans,sans-serif;font-weight:bold;font-size:22.5px;fill:#f1813a;stroke:#f1813a;stroke-width:0.5px" textLength="33.4" lengthAdjust="spacingAndGlyphs">%75</text><circle cx="728" cy="1486.8" r="37.6" fill="none" stroke="#b9b8b4" stroke-width="8.8"/><circle cx="728" cy="1486.8" r="37.6" fill="none" stroke="#f1813a" stroke-width="8.8" stroke-dasharray="148.84 236.25" transform="rotate(-90 728 1486.8)"/><text x="711.0" y="1494.8" style="font-family:Liberation Sans,sans-serif;font-weight:bold;font-size:22.5px;fill:#f1813a;stroke:#f1813a;stroke-width:0.5px" textLength="34" lengthAdjust="spacingAndGlyphs">%63</text><text x="784" y="1142.2" style="font-family:Liberation Sans,sans-serif;font-size:19px;fill:#2a2a2a"><tspan style="font-weight:bold">Hayatını kaybeden</tspan> kişilerin</text><text x="784" y="1168.3" style="font-family:Liberation Sans,sans-serif;font-size:19px;fill:#2a2a2a">yüzde 79,5&#8217;i 60 yaş üstü</text><text x="784" y="1258.7" style="font-family:Liberation Sans,sans-serif;font-size:19px;fill:#2a2a2a">Hayatını kaybeden kişilerin</text><text x="784" y="1284.8" style="font-family:Liberation Sans,sans-serif;font-size:19px;fill:#2a2a2a">yüzde 69&#8217;u <tspan style="font-weight:bold">tansiyon hastası</tspan></text><text x="784" y="1369" style="font-family:Liberation Sans,sans-serif;font-size:19px;fill:#2a2a2a"><tspan style="font-weight:bold">Yoğun bakımda</tspan> olanların</text><text x="784" y="1395.5" style="font-family:Liberation Sans,sans-serif;font-size:19px;fill:#2a2a2a">yüzde 75&#8217;i 60 yaşın üstünde</text><text x="784" y="1480" style="font-family:Liberation Sans,sans-serif;font-size:19px;fill:#2a2a2a">Yoğun bakımda olanların</text><text x="784" y="1505.6" style="font-family:Liberation Sans,sans-serif;font-size:19px;fill:#2a2a2a">yüzde 63&#8217;ü <tspan style="font-weight:bold">tansiyon hastası</tspan></text><text x="491.4" y="1599" style="font-family:Liberation Sans,sans-serif;font-weight:bold;font-size:17px;fill:#1c1c1c" textLength="103" lengthAdjust="spacing">VAKA SAYISI</text><line x1="607" y1="1591.2" x2="1055" y2="1591.2" stroke="#a3a3bb" stroke-width="1.4" stroke-dasharray="7 4"/><rect x="491.6" y="1633.5" width="20" height="19" fill="#fdeeea" stroke="#8f8684" stroke-width="1.2"/><text x="517" y="1648.6" style="font-family:Liberation Sans,sans-serif;font-size:18px;fill:#333" textLength="44.3" lengthAdjust="spacing">1 - 50</text><rect x="608.3000000000001" y="1633.5" width="20" height="19" fill="#fbe2dc" stroke="#8f8684" stroke-width="1.2"/><text x="633.7" y="1648.6" style="font-family:Liberation Sans,sans-serif;font-size:18px;fill:#333">50 - 100</text><rect x="734.0" y="1633.5" width="20" height="19" fill="#f8cfc8" stroke="#8f8684" stroke-width="1.2"/><text x="759.4" y="1648.6" style="font-family:Liberation Sans,sans-serif;font-size:18px;fill:#333">100 - 1000</text><rect x="879.6" y="1633.5" width="20" height="19" fill="#875636" stroke="#8f8684" stroke-width="1.2"/><text x="905" y="1648.6" style="font-family:Liberation Sans,sans-serif;font-size:18px;fill:#333" textLength="114.3" lengthAdjust="spacing">1000 - 10 000</text><path d="M244.6 1704.6 241.1 1713.6 241.1 1726.1 232.1 1736.8 225.0 1742.1 217.9 1749.3 221.4 1754.6 235.7 1757.3 248.2 1758.2 241.1 1761.8 230.4 1768.9 226.0 1772.0 221.0 1781.0 223.2 1785.0 228.6 1776.1 235.7 1770.7 242.9 1765.4 250.0 1761.8 257.1 1756.4 267.9 1751.1 276.8 1745.7 283.9 1740.4 296.4 1740.4 307.1 1738.6 317.9 1735.9 325.0 1736.8 332.1 1738.6 335.7 1742.1 342.9 1743.9 353.6 1742.1 355.4 1740.0 356.0 1735.0 357.1 1728.8 339.3 1718.9 323.2 1711.8 317.9 1708.2 314.3 1695.7 313.4 1683.2 307.1 1680.5 294.6 1683.2 285.7 1677.9 278.6 1671.6 271.4 1672.5 260.7 1676.1 246.4 1677.9 237.5 1685.0 237.5 1688.6 241.1 1695.7 244.6 1704.6ZM293.2 1760.5 289.0 1759.0 284.4 1760.0 286.0 1763.5 292.0 1763.8 293.2 1760.5ZM305.0 1776.6 305.0 1770.0 299.0 1767.8 293.0 1768.5 293.0 1772.0 298.0 1775.0 305.0 1776.6ZM204.0 1784.5 212.0 1783.5 212.5 1779.0 207.0 1777.6 201.0 1778.5 197.5 1781.0 198.5 1783.8 204.0 1784.5ZM214.2 1803.0 212.0 1801.0 209.5 1802.0 210.5 1804.5 213.0 1805.2 214.2 1803.0ZM368.6 1754.3 380.0 1757.0 392.9 1760.5 394.3 1762.9 382.9 1763.6 368.0 1761.5 352.0 1767.0 346.4 1770.7 350.0 1776.1 355.4 1779.6 342.9 1779.6 325.0 1777.9 310.7 1777.9 305.0 1777.6 293.2 1779.6 283.4 1779.6 275.5 1775.6 272.6 1769.7 263.8 1769.7 253.9 1771.2 246.1 1771.7 239.2 1776.6 229.4 1784.5 221.5 1790.4 218.6 1796.3 216.6 1804.1 215.6 1813.9 211.7 1823.8 219.6 1824.7 236.3 1823.8 251.3 1823.8 250.0 1827.5 242.5 1830.0 236.3 1837.5 241.3 1843.8 245.0 1848.8 242.5 1855.0 246.3 1861.3 252.5 1862.5 251.3 1865.0 243.8 1870.0 238.8 1872.5 237.5 1876.3 241.3 1882.5 245.0 1888.8 253.8 1890.0 255.0 1891.9 246.3 1892.5 236.3 1890.0 233.8 1895.0 231.3 1890.0 230.0 1882.5 226.3 1875.0 221.3 1873.8 220.0 1878.8 222.5 1885.0 220.0 1892.5 212.5 1896.3 217.5 1900.0 223.8 1905.0 228.8 1907.5 231.3 1905.0 237.5 1907.5 242.5 1912.5 248.8 1915.0 256.3 1920.0 257.5 1927.5 255.0 1932.5 247.5 1936.3 251.4 1940.0 252.9 1948.6 254.3 1955.7 262.9 1957.1 268.6 1962.9 270.0 1967.1 258.6 1970.0 254.3 1972.9 253.6 1978.6 261.4 1980.0 275.7 1980.0 290.0 1980.7 302.9 1980.7 294.3 1984.3 290.0 1987.1 287.1 1992.9 277.1 1992.9 265.7 1992.1 257.1 1996.4 265.7 1998.6 277.1 1997.1 287.1 1997.1 285.7 2005.7 291.4 2005.7 297.1 1997.1 302.9 1992.9 311.4 1991.4 317.1 1997.1 322.9 2001.4 328.6 2007.1 334.3 2001.4 340.0 2007.1 338.6 2014.3 342.9 2022.9 351.4 2030.0 362.9 2035.7 368.6 2038.6 370.0 2036.4 381.4 2033.6 391.4 2031.4 401.4 2035.0 405.7 2029.3 408.6 2020.7 411.4 2009.3 412.9 2000.7 417.1 1997.9 427.1 1998.6 438.6 2000.0 450.0 2003.6 461.4 2010.7 472.9 2016.4 481.4 2020.7 488.6 2029.3 495.7 2037.9 504.3 2045.0 507.5 2047.6 515.5 2050.8 526.8 2047.6 539.6 2046.0 552.5 2045.2 562.1 2042.0 571.8 2038.8 578.2 2033.9 581.4 2029.1 587.9 2021.1 600.7 2011.4 610.4 2006.6 620.0 2005.8 623.8 2010.0 640.0 2021.3 647.5 2018.8 655.0 2015.0 658.8 2011.3 665.0 2008.8 670.0 2001.3 675.0 1999.4 680.0 2001.3 683.8 2008.8 683.8 2017.5 676.3 2022.5 670.0 2027.5 663.8 2035.0 667.5 2042.5 672.5 2052.5 671.3 2058.8 677.5 2062.5 681.3 2065.0 682.5 2061.3 687.5 2055.0 691.3 2053.8 692.5 2042.5 701.3 2040.0 706.3 2038.8 705.0 2032.5 701.3 2026.3 702.5 2016.3 705.0 2005.0 715.0 2007.5 727.5 2012.5 736.3 2015.0 743.8 2013.8 752.5 2008.8 765.0 2005.0 772.5 2001.3 781.4 1998.6 791.4 2000.0 801.4 2007.1 812.9 2009.3 827.1 2010.0 841.4 2007.1 855.7 2002.9 870.0 1995.7 878.6 1991.4 891.4 1985.7 905.7 1980.0 920.0 1978.6 935.6 1977.5 955.9 1972.8 948.1 1963.4 960.6 1961.9 970.0 1963.4 979.4 1972.8 988.8 1968.1 995.0 1958.8 1004.4 1957.2 1013.8 1958.8 1026.3 1959.5 1038.8 1961.9 1048.1 1961.9 1055.9 1957.2 1063.8 1957.2 1066.9 1968.1 1071.6 1972.8 1076.3 1968.1 1082.5 1958.8 1091.9 1954.1 1093.4 1949.4 1085.6 1943.1 1082.5 1930.6 1079.4 1925.9 1070.0 1921.3 1063.8 1919.7 1060.6 1913.4 1063.8 1905.6 1068.4 1896.3 1070.9 1893.9 1068.5 1889.1 1063.7 1884.2 1061.3 1869.8 1058.8 1863.8 1055.2 1857.7 1052.8 1845.7 1049.2 1839.6 1046.8 1831.2 1056.4 1828.8 1062.5 1825.2 1063.7 1815.5 1064.9 1811.9 1072.1 1809.5 1079.3 1810.7 1070.9 1801.1 1063.7 1793.8 1056.4 1790.2 1044.4 1791.4 1027.5 1789.0 1025.1 1784.2 1021.5 1777.0 1019.1 1767.3 1021.5 1762.5 1023.9 1752.9 1021.5 1745.6 1016.7 1737.2 1009.4 1731.2 1005.8 1725.1 996.2 1719.1 984.1 1713.1 978.1 1708.3 978.1 1704.0 969.3 1705.0 962.9 1710.4 945.7 1711.4 932.9 1712.5 920.0 1713.6 911.4 1722.1 902.9 1727.5 890.0 1735.0 877.1 1741.4 864.3 1746.8 851.4 1748.9 836.4 1745.7 827.9 1742.5 815.0 1744.6 795.7 1750.0 782.9 1753.2 767.9 1754.3 752.9 1748.9 748.6 1744.6 740.0 1746.8 720.4 1742.4 714.3 1736.0 704.3 1734.3 697.1 1731.4 682.9 1730.0 674.3 1715.7 668.6 1709.4 657.1 1711.4 645.7 1712.9 637.1 1698.6 635.7 1691.4 625.7 1687.7 620.0 1691.4 605.7 1694.3 588.6 1695.7 568.6 1691.4 548.6 1692.9 528.6 1698.6 514.3 1702.9 500.0 1714.3 494.3 1718.6 482.9 1725.7 468.6 1730.0 462.9 1732.9 460.0 1738.6 452.9 1742.1 442.9 1742.9 431.4 1740.7 420.0 1737.9 411.4 1735.0 401.4 1737.1 392.9 1738.0 378.6 1735.0 358.5 1729.0 357.5 1733.0 355.4 1747.5 364.3 1751.0 368.6 1754.3Z" fill="#fbdcd4"/><path d="M261.3 1713.8 249.2 1677.5 246.4 1677.9 237.5 1685.0 237.5 1688.6 241.1 1695.7 244.6 1704.6 241.1 1713.6 241.1 1726.1 232.1 1736.8 225.0 1742.1 217.9 1749.3 221.4 1754.6 235.7 1757.3 248.2 1758.2 241.1 1761.8 230.4 1768.9 226.2 1771.8 238.4 1768.7 242.9 1765.4 249.5 1762.1 244.3 1732.8 251.5 1719.3 260.5 1714.8 261.3 1713.8Z" fill="#fbdcd4" stroke="#cfa9a1" stroke-width="1" stroke-linejoin="round"/><path d="M261.3 1713.8 274.5 1710.6 287.6 1713.7 296.5 1710.6 317.3 1713.7 317.9 1708.2 314.3 1695.7 313.4 1683.2 307.1 1680.5 294.6 1683.2 285.7 1677.9 278.6 1671.6 271.4 1672.5 260.7 1676.1 249.2 1677.5 261.3 1713.8Z" fill="#fbdcd4" stroke="#cfa9a1" stroke-width="1" stroke-linejoin="round"/><path d="M296.5 1710.6 287.6 1713.7 274.5 1710.6 261.3 1713.8 260.5 1714.8 251.5 1719.3 244.3 1732.8 249.5 1762.1 250.0 1761.8 257.1 1756.4 267.9 1751.1 276.8 1745.7 283.9 1740.4 296.4 1740.4 307.1 1738.6 317.9 1735.9 316.5 1722.0 317.3 1713.7 296.5 1710.6ZM269.1 1771.4 272.7 1769.9 272.6 1769.7 263.8 1769.7 263.5 1769.7 269.1 1771.4ZM284.4 1760.0 286.0 1763.5 292.0 1763.8 293.2 1760.5 289.0 1759.0 284.4 1760.0Z" fill="#fbdcd4" stroke="#cfa9a1" stroke-width="1" stroke-linejoin="round"/><path d="M371.5 1732.9 378.6 1735.0 371.5 1732.9 371.5 1732.9ZM389.4 1759.6 392.9 1760.5 394.3 1762.9 392.1 1763.0 401.4 1774.9 401.8 1774.9 409.2 1766.2 410.2 1763.8 416.1 1757.2 419.1 1755.4 425.6 1739.3 420.0 1737.9 411.4 1735.0 401.4 1737.1 392.9 1738.0 393.5 1743.9 383.9 1745.7 381.3 1749.1 389.4 1759.6Z" fill="#f9d0c8" stroke="#cfa9a1" stroke-width="1" stroke-linejoin="round"/><path d="M363.5 1783.4 372.5 1787.4 372.5 1787.4 381.2 1789.4 401.4 1774.9 392.1 1763.0 382.9 1763.6 368.0 1761.5 352.0 1767.0 350.1 1768.2 363.5 1783.4ZM381.3 1749.1 380.4 1750.2 371.4 1747.5 364.3 1751.0 368.6 1754.3 380.0 1757.0 389.4 1759.6 381.3 1749.1ZM371.5 1732.9 358.5 1729.0 357.5 1733.0 355.4 1747.5 364.3 1751.0 355.6 1747.5 356.8 1740.0 357.8 1733.0 358.6 1729.2 371.5 1732.9 371.5 1732.9Z" fill="#fbdcd4" stroke="#cfa9a1" stroke-width="1" stroke-linejoin="round"/><path d="M419.1 1755.4 416.1 1757.2 410.2 1763.8 409.2 1766.2 401.8 1774.9 425.7 1797.7 438.6 1796.3 442.5 1790.2 442.5 1773.2 445.2 1764.7 442.0 1759.8 440.4 1742.4 431.4 1740.7 425.6 1739.3 419.1 1755.4Z" fill="#fbdcd4" stroke="#cfa9a1" stroke-width="1" stroke-linejoin="round"/><path d="M442.0 1759.8 445.2 1764.7 448.7 1763.7 469.0 1762.4 474.0 1755.7 459.4 1740.5 458.9 1739.2 452.9 1742.1 442.9 1742.9 440.4 1742.4 442.0 1759.8Z" fill="#fde8e2" stroke="#cfa9a1" stroke-width="1" stroke-linejoin="round"/><path d="M459.4 1740.5 474.0 1755.7 482.2 1752.0 484.7 1751.8 499.1 1740.2 500.8 1736.7 492.2 1721.5 491.1 1720.6 482.9 1725.7 468.6 1730.0 462.9 1732.9 460.0 1738.6 458.9 1739.2 459.4 1740.5Z" fill="#fbdcd4" stroke="#cfa9a1" stroke-width="1" stroke-linejoin="round"/><path d="M492.2 1721.5 500.8 1736.7 501.2 1736.7 527.0 1723.8 532.0 1698.8 532.6 1697.5 528.6 1698.6 514.3 1702.9 500.0 1714.3 494.3 1718.6 491.1 1720.6 492.2 1721.5Z" fill="#fde8e2" stroke="#cfa9a1" stroke-width="1" stroke-linejoin="round"/><path d="M527.0 1723.8 501.2 1736.7 500.8 1736.7 499.1 1740.2 512.0 1764.3 516.2 1766.2 527.1 1757.1 528.6 1752.5 539.3 1742.0 527.0 1723.8Z" fill="#fde8e2" stroke="#cfa9a1" stroke-width="1" stroke-linejoin="round"/><path d="M532.0 1698.8 527.0 1723.8 539.3 1742.0 542.5 1742.5 554.1 1754.1 572.3 1758.5 576.5 1764.8 611.5 1741.5 605.0 1735.0 597.5 1697.3 596.2 1695.1 588.6 1695.7 568.6 1691.4 548.6 1692.9 532.6 1697.5 532.0 1698.8Z" fill="#fde8e2" stroke="#cfa9a1" stroke-width="1" stroke-linejoin="round"/><path d="M597.5 1697.3 605.0 1735.0 611.5 1741.5 619.5 1744.5 625.0 1750.0 641.2 1743.1 647.5 1732.5 641.7 1709.2 642.5 1707.6 637.1 1698.6 635.7 1691.4 625.7 1687.7 620.0 1691.4 605.7 1694.3 596.2 1695.1 597.5 1697.3Z" fill="#fbdcd4" stroke="#cfa9a1" stroke-width="1" stroke-linejoin="round"/><path d="M641.7 1709.2 647.5 1732.5 641.2 1743.1 663.9 1754.5 675.2 1752.6 681.1 1755.2 684.1 1759.6 714.3 1752.0 718.3 1740.2 714.3 1736.0 704.3 1734.3 697.1 1731.4 682.9 1730.0 674.3 1715.7 668.6 1709.4 657.1 1711.4 645.7 1712.9 642.5 1707.6 641.7 1709.2Z" fill="#fbdcd4" stroke="#cfa9a1" stroke-width="1" stroke-linejoin="round"/><path d="M482.2 1752.0 474.0 1755.7 469.0 1762.4 448.7 1763.7 445.2 1764.7 442.5 1773.2 442.5 1790.2 445.5 1785.5 478.9 1787.5 508.4 1779.6 512.3 1770.8 517.4 1772.2 516.2 1766.2 512.0 1764.3 499.1 1740.2 484.7 1751.8 482.2 1752.0Z" fill="#fde8e2" stroke="#cfa9a1" stroke-width="1" stroke-linejoin="round"/><path d="M528.6 1752.5 527.1 1757.1 516.2 1766.2 517.4 1772.2 530.0 1775.7 545.7 1790.5 560.5 1793.4 559.9 1805.7 575.6 1800.8 579.7 1772.0 577.1 1767.8 576.5 1764.8 572.3 1758.5 554.1 1754.1 542.5 1742.5 539.3 1742.0 528.6 1752.5Z" fill="#fde8e2" stroke="#cfa9a1" stroke-width="1" stroke-linejoin="round"/><path d="M611.5 1741.5 576.5 1764.8 577.1 1767.8 579.7 1772.0 575.6 1800.8 598.6 1817.3 600.5 1821.3 601.0 1822.0 636.7 1804.2 640.8 1795.8 628.6 1783.6 625.8 1760.3 625.0 1758.6 625.0 1750.0 619.5 1744.5 611.5 1741.5Z" fill="#fbdcd4" stroke="#cfa9a1" stroke-width="1" stroke-linejoin="round"/><path d="M625.0 1750.0 625.0 1758.6 625.8 1760.3 628.6 1783.6 640.8 1795.8 660.9 1793.3 665.1 1794.7 685.3 1770.2 684.1 1759.6 681.1 1755.2 675.2 1752.6 663.9 1754.5 641.2 1743.1 625.0 1750.0Z" fill="#fbdcd4" stroke="#cfa9a1" stroke-width="1" stroke-linejoin="round"/><path d="M665.1 1794.7 682.5 1822.5 703.5 1801.5 737.5 1810.0 747.0 1791.1 740.5 1783.5 727.7 1775.7 724.3 1774.8 722.8 1773.3 714.3 1752.0 684.1 1759.6 685.3 1770.2 665.1 1794.7Z" fill="#fbdcd4" stroke="#cfa9a1" stroke-width="1" stroke-linejoin="round"/><path d="M722.8 1773.3 724.3 1774.8 727.7 1775.7 740.5 1783.5 747.0 1791.1 764.3 1789.3 767.9 1783.0 763.4 1752.7 752.9 1748.9 748.6 1744.6 740.0 1746.8 720.4 1742.4 718.3 1740.2 714.3 1752.0 722.8 1773.3Z" fill="#fbdcd4" stroke="#cfa9a1" stroke-width="1" stroke-linejoin="round"/><path d="M767.9 1783.0 764.3 1789.3 775.0 1800.0 802.5 1800.0 802.5 1775.8 808.4 1763.6 803.3 1747.9 795.7 1750.0 782.9 1753.2 767.9 1754.3 763.4 1752.7 767.9 1783.0Z" fill="#fbdcd4" stroke="#cfa9a1" stroke-width="1" stroke-linejoin="round"/><path d="M808.4 1763.6 828.7 1775.0 839.9 1767.3 850.0 1768.1 860.8 1776.2 872.6 1769.8 874.6 1767.4 866.0 1746.1 864.3 1746.8 851.4 1748.9 836.4 1745.7 827.9 1742.5 815.0 1744.6 803.3 1747.9 808.4 1763.6Z" fill="#fbdcd4" stroke="#cfa9a1" stroke-width="1" stroke-linejoin="round"/><path d="M908.4 1724.0 902.9 1727.5 890.0 1735.0 877.1 1741.4 866.0 1746.1 874.6 1767.4 896.1 1763.6 907.7 1765.6 908.4 1724.0Z" fill="#fbdcd4" stroke="#cfa9a1" stroke-width="1" stroke-linejoin="round"/><path d="M970.7 1704.8 969.3 1705.0 962.9 1710.4 945.7 1711.4 932.9 1712.5 920.0 1713.6 911.4 1722.1 908.4 1724.0 907.7 1765.6 909.4 1767.5 934.2 1767.5 947.5 1756.0 957.6 1752.0 964.1 1751.4 970.7 1704.8Z" fill="#fde8e2" stroke="#cfa9a1" stroke-width="1" stroke-linejoin="round"/><path d="M964.1 1751.4 965.8 1752.5 981.4 1752.5 983.0 1752.0 1000.7 1734.3 1010.4 1732.0 1009.4 1731.2 1005.8 1725.1 996.2 1719.1 984.1 1713.1 978.1 1708.3 978.1 1704.0 970.7 1704.8 964.1 1751.4Z" fill="#fde8e2" stroke="#cfa9a1" stroke-width="1" stroke-linejoin="round"/><path d="M1000.7 1734.3 983.0 1752.0 981.4 1752.5 965.8 1752.5 972.3 1791.0 994.2 1794.2 994.3 1794.3 1009.3 1800.7 1025.3 1784.7 1025.1 1784.2 1021.5 1777.0 1019.1 1767.3 1021.5 1762.5 1023.9 1752.9 1021.5 1745.6 1016.7 1737.2 1010.4 1732.0 1000.7 1734.3Z" fill="#fbdcd4" stroke="#cfa9a1" stroke-width="1" stroke-linejoin="round"/><path d="M1009.3 1800.7 1011.5 1805.7 1016.9 1810.0 1033.5 1810.0 1051.3 1822.7 1055.0 1829.1 1056.4 1828.8 1062.5 1825.2 1063.7 1815.5 1064.9 1811.9 1072.1 1809.5 1079.3 1810.7 1070.9 1801.1 1063.7 1793.8 1056.4 1790.2 1044.4 1791.4 1027.5 1789.0 1025.3 1784.7 1009.3 1800.7Z" fill="#fde8e2" stroke="#cfa9a1" stroke-width="1" stroke-linejoin="round"/><path d="M964.5 1797.5 968.8 1818.8 980.7 1830.7 986.5 1844.7 987.1 1844.8 1004.3 1853.4 1021.9 1830.0 1051.6 1830.0 1055.0 1829.1 1051.3 1822.7 1033.5 1810.0 1016.9 1810.0 1011.5 1805.7 1009.3 1800.7 994.3 1794.3 994.2 1794.2 972.3 1791.0 964.5 1797.5Z" fill="#fbdcd4" stroke="#cfa9a1" stroke-width="1" stroke-linejoin="round"/><path d="M965.8 1752.5 964.1 1751.4 957.6 1752.0 947.5 1756.0 934.2 1767.5 909.4 1767.5 903.8 1789.7 889.2 1801.9 880.2 1815.3 880.8 1821.9 916.6 1835.3 930.4 1831.1 930.8 1831.4 940.3 1842.5 951.6 1849.3 973.4 1852.0 986.5 1844.7 980.7 1830.7 968.8 1818.8 964.5 1797.5 972.3 1791.0 965.8 1752.5Z" fill="#fbdcd4" stroke="#cfa9a1" stroke-width="1" stroke-linejoin="round"/><path d="M909.4 1767.5 907.7 1765.6 896.1 1763.6 874.6 1767.4 872.6 1769.8 860.8 1776.2 856.7 1796.2 880.2 1815.3 889.2 1801.9 903.8 1789.7 909.4 1767.5Z" fill="#fde8e2" stroke="#cfa9a1" stroke-width="1" stroke-linejoin="round"/><path d="M860.8 1776.2 850.0 1768.1 839.9 1767.3 828.7 1775.0 808.4 1763.6 802.5 1775.8 802.5 1800.0 807.8 1804.4 815.1 1803.9 832.4 1813.1 849.7 1797.2 856.7 1796.2 860.8 1776.2Z" fill="#fde8e2" stroke="#cfa9a1" stroke-width="1" stroke-linejoin="round"/><path d="M775.0 1800.0 775.0 1823.5 783.4 1830.2 791.9 1855.8 792.9 1856.2 814.1 1839.2 830.1 1838.0 837.6 1834.9 842.4 1836.9 866.9 1839.7 880.8 1821.9 880.2 1815.3 856.7 1796.2 849.7 1797.2 832.4 1813.1 815.1 1803.9 807.8 1804.4 802.5 1800.0 775.0 1800.0Z" fill="#fde8e2" stroke="#cfa9a1" stroke-width="1" stroke-linejoin="round"/><path d="M703.5 1801.5 682.5 1822.5 682.5 1824.6 691.2 1838.3 690.5 1846.1 708.6 1882.1 714.4 1885.6 733.5 1866.5 762.4 1873.7 762.6 1873.7 771.0 1861.0 791.9 1855.8 783.4 1830.2 775.0 1823.5 775.0 1800.0 764.3 1789.3 747.0 1791.1 737.5 1810.0 703.5 1801.5Z" fill="#fbdcd4" stroke="#cfa9a1" stroke-width="1" stroke-linejoin="round"/><path d="M601.0 1822.0 602.2 1826.6 621.8 1843.3 628.1 1857.3 638.7 1856.0 665.0 1866.5 690.5 1846.1 691.2 1838.3 682.5 1824.6 682.5 1822.5 665.1 1794.7 660.9 1793.3 640.8 1795.8 636.7 1804.2 601.0 1822.0Z" fill="#fde8e2" stroke="#cfa9a1" stroke-width="1" stroke-linejoin="round"/><path d="M575.6 1800.8 559.9 1805.7 559.5 1813.0 547.7 1824.8 549.7 1838.6 556.4 1855.5 596.9 1833.2 602.2 1826.6 601.0 1822.0 600.5 1821.3 598.6 1817.3 575.6 1800.8Z" fill="#fde8e2" stroke="#cfa9a1" stroke-width="1" stroke-linejoin="round"/><path d="M627.5 1858.9 628.1 1857.3 621.8 1843.3 602.2 1826.6 596.9 1833.2 556.4 1855.5 557.5 1858.2 567.9 1867.3 578.1 1872.2 588.7 1865.0 615.0 1865.0 627.5 1858.9Z" fill="#fde8e2" stroke="#cfa9a1" stroke-width="1" stroke-linejoin="round"/><path d="M420.1 1804.6 412.9 1840.4 413.7 1841.0 419.2 1857.5 425.4 1862.8 455.0 1857.9 470.7 1871.0 471.1 1870.0 480.9 1862.2 486.8 1852.3 482.9 1828.8 477.0 1811.1 473.0 1807.2 437.7 1807.2 436.7 1799.3 438.6 1796.3 425.7 1797.7 420.1 1804.6Z" fill="#fbdcd4" stroke="#cfa9a1" stroke-width="1" stroke-linejoin="round"/><path d="M401.8 1774.9 401.4 1774.9 381.2 1789.4 388.1 1808.4 386.4 1820.0 388.8 1825.6 405.3 1838.7 412.9 1840.4 420.1 1804.6 425.7 1797.7 401.8 1774.9Z" fill="#fde8e2" stroke="#cfa9a1" stroke-width="1" stroke-linejoin="round"/><path d="M305.0 1775.0 305.0 1770.0 304.4 1769.8 305.0 1775.0ZM307.9 1801.0 316.8 1813.4 337.2 1823.6 339.5 1826.3 350.9 1820.0 386.4 1820.0 388.1 1808.4 381.2 1789.4 372.5 1787.4 372.5 1787.4 363.5 1783.4 350.1 1768.2 346.4 1770.7 350.0 1776.1 355.4 1779.6 342.9 1779.6 325.0 1777.9 310.7 1777.9 305.3 1777.6 307.9 1801.0Z" fill="#fbdcd4" stroke="#cfa9a1" stroke-width="1" stroke-linejoin="round"/><path d="M245.4 1829.5 245.5 1829.0 242.5 1830.0 236.3 1837.5 237.9 1839.5 245.4 1829.5ZM274.1 1810.5 267.8 1778.8 269.1 1771.4 263.5 1769.7 253.9 1771.2 246.1 1771.7 239.2 1776.6 229.4 1784.5 221.5 1790.4 218.6 1796.3 216.6 1804.1 215.6 1813.9 211.7 1823.8 219.6 1824.7 236.3 1823.8 247.4 1823.8 274.1 1810.5ZM226.2 1771.8 226.0 1772.0 221.0 1781.0 223.2 1785.0 228.6 1776.1 235.7 1770.7 238.4 1768.7 226.2 1771.8ZM212.5 1779.0 207.0 1777.6 201.0 1778.5 197.5 1781.0 198.5 1783.8 204.0 1784.5 212.0 1783.5 212.5 1779.0ZM209.5 1802.0 210.5 1804.5 213.0 1805.2 214.2 1803.0 212.0 1801.0 209.5 1802.0Z" fill="#fbdcd4" stroke="#cfa9a1" stroke-width="1" stroke-linejoin="round"/><path d="M274.1 1810.5 247.4 1823.8 251.3 1823.8 250.0 1827.5 245.5 1829.0 245.4 1829.5 237.9 1839.5 241.3 1843.8 245.0 1848.8 242.5 1845.0 258.8 1833.8 267.5 1830.6 273.8 1833.8 276.9 1855.0 267.5 1862.5 262.5 1873.8 264.8 1877.8 288.1 1842.8 312.9 1855.2 334.3 1853.9 340.4 1837.1 339.5 1826.3 337.2 1823.6 316.8 1813.4 307.9 1801.0 305.3 1777.6 305.0 1777.6 293.2 1779.6 283.4 1779.6 275.5 1775.6 272.7 1769.9 269.1 1771.4 267.8 1778.8 274.1 1810.5ZM304.4 1769.8 299.0 1767.8 293.0 1768.5 293.0 1772.0 298.0 1775.0 305.0 1776.6 305.0 1775.0 304.4 1769.8Z" fill="#fbdcd4" stroke="#cfa9a1" stroke-width="1" stroke-linejoin="round"/><path d="M340.4 1837.1 334.3 1853.9 337.7 1862.7 346.6 1871.6 377.2 1874.1 385.4 1882.8 419.2 1857.5 413.7 1841.0 412.9 1840.4 405.3 1838.7 388.8 1825.6 386.4 1820.0 350.9 1820.0 339.5 1826.3 340.4 1837.1Z" fill="#fde8e2" stroke="#cfa9a1" stroke-width="1" stroke-linejoin="round"/><path d="M317.6 1908.2 335.5 1912.6 346.2 1885.8 346.6 1871.6 337.7 1862.7 334.3 1853.9 312.9 1855.2 288.1 1842.8 264.8 1877.8 267.5 1882.5 277.5 1887.5 286.3 1897.5 292.5 1897.5 302.5 1902.5 313.8 1906.3 315.6 1909.3 317.6 1908.2Z" fill="#fbdcd4" stroke="#cfa9a1" stroke-width="1" stroke-linejoin="round"/><path d="M385.4 1882.8 377.2 1874.1 346.6 1871.6 346.2 1885.8 335.5 1912.6 338.0 1915.5 355.0 1915.7 369.9 1904.5 389.2 1899.2 385.4 1882.8Z" fill="#fde8e2" stroke="#cfa9a1" stroke-width="1" stroke-linejoin="round"/><path d="M385.4 1882.8 389.2 1899.2 392.5 1902.5 421.5 1921.9 441.7 1912.2 461.5 1926.3 462.4 1926.6 463.2 1925.0 449.5 1905.4 465.2 1885.7 470.7 1871.0 455.0 1857.9 425.4 1862.8 419.2 1857.5 385.4 1882.8Z" fill="#fde8e2" stroke="#cfa9a1" stroke-width="1" stroke-linejoin="round"/><path d="M315.6 1909.3 320.0 1916.3 302.5 1918.8 277.5 1921.3 261.3 1923.8 256.3 1920.0 257.5 1927.5 255.0 1932.5 247.5 1936.3 251.4 1940.0 252.9 1948.6 254.3 1955.7 256.7 1956.1 283.5 1947.2 299.3 1954.6 308.2 1951.8 309.6 1947.8 337.5 1929.2 338.0 1915.5 335.5 1912.6 317.6 1908.2 315.6 1909.3Z" fill="#fde8e2" stroke="#cfa9a1" stroke-width="1" stroke-linejoin="round"/><path d="M337.5 1929.2 309.6 1947.8 308.2 1951.8 321.4 1961.6 336.1 1951.8 359.9 1963.7 366.1 1949.1 374.9 1942.6 374.9 1942.5 385.0 1935.9 389.0 1930.4 392.5 1902.5 389.2 1899.2 369.9 1904.5 355.0 1915.7 338.0 1915.5 337.5 1929.2Z" fill="#fbdcd4" stroke="#cfa9a1" stroke-width="1" stroke-linejoin="round"/><path d="M422.6 1946.7 419.3 1969.8 419.6 1970.0 461.1 1970.0 451.4 1964.3 451.4 1952.5 457.3 1936.8 462.4 1926.6 461.5 1926.3 441.7 1912.2 421.5 1921.9 392.5 1902.5 389.0 1930.4 417.2 1937.4 422.6 1946.7Z" fill="#fbdcd4" stroke="#cfa9a1" stroke-width="1" stroke-linejoin="round"/><path d="M422.6 1946.7 417.2 1937.4 389.0 1930.4 385.0 1935.9 374.9 1942.5 374.9 1942.6 366.1 1949.1 359.9 1963.7 359.6 1965.4 384.1 1983.7 395.8 1974.5 417.6 1969.7 419.3 1969.8 422.6 1946.7Z" fill="#fde8e2" stroke="#cfa9a1" stroke-width="1" stroke-linejoin="round"/><path d="M308.2 1951.8 299.3 1954.6 283.5 1947.2 256.7 1956.1 262.9 1957.1 268.6 1962.9 270.0 1967.1 258.6 1970.0 254.3 1972.9 253.6 1978.6 261.4 1980.0 275.7 1980.0 290.0 1980.7 302.9 1980.7 294.3 1984.3 290.0 1987.1 287.1 1992.9 277.1 1992.9 265.7 1992.1 257.1 1996.4 265.7 1998.6 277.1 1997.1 287.1 1997.1 285.7 2005.7 291.4 2005.7 297.1 1997.1 302.9 1992.9 311.4 1991.4 317.1 1997.1 322.9 2001.4 328.6 2007.1 334.3 2001.4 340.0 2007.1 338.6 2014.3 339.5 2016.0 347.5 2000.0 347.5 1977.5 359.6 1965.4 359.9 1963.7 336.1 1951.8 321.4 1961.6 308.2 1951.8Z" fill="#fbdcd4" stroke="#cfa9a1" stroke-width="1" stroke-linejoin="round"/><path d="M347.5 2000.0 339.5 2016.0 342.9 2022.9 351.4 2030.0 362.9 2035.7 368.6 2038.6 370.0 2036.4 381.4 2033.6 391.4 2031.4 401.4 2035.0 405.7 2029.3 408.6 2020.7 411.4 2009.3 412.9 2000.7 417.1 1997.9 427.1 1998.6 438.6 2000.0 450.0 2003.6 461.4 2010.7 472.9 2016.4 481.4 2020.7 488.6 2029.3 495.7 2037.9 498.3 2040.0 515.5 2014.3 502.8 1999.5 502.5 2000.0 488.8 1991.8 475.0 1978.1 461.1 1970.0 419.6 1970.0 419.3 1969.8 417.6 1969.7 395.8 1974.5 384.1 1983.7 359.6 1965.4 347.5 1977.5 347.5 2000.0Z" fill="#fbdcd4" stroke="#cfa9a1" stroke-width="1" stroke-linejoin="round"/><path d="M515.5 2014.3 519.9 2014.7 545.8 2005.0 547.1 2005.2 549.5 2003.3 591.0 1991.1 597.2 1980.0 595.1 1977.3 583.1 1984.0 567.4 1956.5 557.5 1956.5 537.9 1964.3 518.2 1974.1 510.4 1985.9 502.8 1999.5 515.5 2014.3Z" fill="#fde8e2" stroke="#cfa9a1" stroke-width="1" stroke-linejoin="round"/><path d="M597.2 1980.0 591.0 1991.1 549.5 2003.3 547.1 2005.2 545.8 2005.0 519.9 2014.7 515.5 2014.3 498.3 2040.0 504.3 2045.0 507.5 2047.6 515.5 2050.8 526.8 2047.6 539.6 2046.0 552.5 2045.2 562.1 2042.0 571.8 2038.8 578.2 2033.9 581.4 2029.1 587.9 2021.1 600.7 2011.4 610.4 2006.6 620.0 2005.8 623.8 2010.0 627.5 1993.8 622.5 1987.5 621.0 1980.0 597.2 1980.0ZM647.1 2018.9 641.6 2020.8 623.8 2010.0 640.0 2021.3 647.1 2018.9Z" fill="#fbdcd4" stroke="#cfa9a1" stroke-width="1" stroke-linejoin="round"/><path d="M567.9 1867.3 573.2 1872.0 575.2 1885.7 553.6 1893.6 545.7 1909.3 543.8 1921.1 553.6 1934.9 583.1 1934.9 589.1 1942.0 592.5 1939.2 600.6 1921.1 597.0 1899.7 595.6 1898.5 594.9 1898.3 586.5 1891.8 578.1 1872.2 567.9 1867.3Z" fill="#fde8e2" stroke="#cfa9a1" stroke-width="1" stroke-linejoin="round"/><path d="M588.7 1865.0 578.1 1872.2 586.5 1891.8 594.9 1898.3 595.6 1898.5 597.0 1899.7 632.5 1898.3 635.4 1895.0 627.5 1858.9 615.0 1865.0 588.7 1865.0Z" fill="#fde8e2" stroke="#cfa9a1" stroke-width="1" stroke-linejoin="round"/><path d="M597.0 1899.7 600.6 1921.1 592.5 1939.2 589.1 1942.0 592.9 1946.6 598.8 1958.4 600.7 1974.1 595.1 1977.3 597.2 1980.0 621.0 1980.0 620.0 1975.0 616.3 1970.0 617.5 1952.5 635.0 1946.3 643.0 1947.4 640.0 1943.9 632.5 1927.1 632.5 1898.3 597.0 1899.7Z" fill="#fde8e2" stroke="#cfa9a1" stroke-width="1" stroke-linejoin="round"/><path d="M665.0 1866.5 638.7 1856.0 628.1 1857.3 627.5 1858.9 635.4 1895.0 632.5 1898.3 632.5 1927.1 640.0 1943.9 643.0 1947.4 653.8 1948.8 655.0 1937.5 677.5 1922.5 682.5 1908.8 690.0 1906.3 695.0 1913.8 694.6 1915.2 712.3 1906.3 717.5 1892.5 714.4 1885.6 708.6 1882.1 690.5 1846.1 665.0 1866.5Z" fill="#fbdcd4" stroke="#cfa9a1" stroke-width="1" stroke-linejoin="round"/><path d="M674.0 1999.8 675.0 1999.4 678.3 2000.7 704.8 2006.0 705.0 2005.0 705.5 2005.1 705.8 2004.5 707.7 1990.9 711.9 1982.7 701.9 1968.3 676.8 1962.4 672.5 1972.5 677.5 1985.0 672.5 1996.3 670.1 1999.0 674.0 1999.8Z" fill="#fbdcd4" stroke="#cfa9a1" stroke-width="1" stroke-linejoin="round"/><path d="M678.3 2000.7 680.0 2001.3 683.8 2008.8 683.8 2017.5 676.3 2022.5 670.0 2027.5 663.8 2035.0 667.5 2042.5 672.5 2052.5 671.3 2058.8 677.5 2062.5 681.3 2065.0 682.5 2061.3 687.5 2055.0 691.3 2053.8 692.5 2042.5 701.3 2040.0 706.3 2038.8 705.0 2032.5 701.3 2026.3 702.5 2016.3 704.8 2006.0 678.3 2000.7ZM670.1 1999.0 665.0 2005.0 657.5 2011.3 656.3 2013.8 658.8 2011.3 665.0 2008.8 670.0 2001.3 674.0 1999.8 670.1 1999.0Z" fill="#fbdcd4" stroke="#cfa9a1" stroke-width="1" stroke-linejoin="round"/><path d="M735.0 2001.9 705.8 2004.5 705.5 2005.1 715.0 2007.5 727.5 2012.5 736.3 2015.0 743.8 2013.8 746.6 2012.2 735.0 2001.9Z" fill="#fde8e2" stroke="#cfa9a1" stroke-width="1" stroke-linejoin="round"/><path d="M705.8 2004.5 735.0 2001.9 746.6 2012.2 752.5 2008.8 765.0 2005.0 771.0 2002.0 779.3 1977.1 778.6 1974.5 743.0 1962.7 741.7 1965.6 731.1 1976.3 711.9 1982.7 707.7 1990.9 705.8 2004.5Z" fill="#fbdcd4" stroke="#cfa9a1" stroke-width="1" stroke-linejoin="round"/><path d="M694.6 1915.2 690.0 1931.3 688.8 1952.5 680.0 1955.0 676.8 1962.4 701.9 1968.3 711.9 1982.7 731.1 1976.3 741.7 1965.6 743.0 1962.7 741.1 1952.5 744.0 1944.3 754.4 1932.5 748.5 1909.2 742.0 1901.7 717.5 1892.5 712.3 1906.3 694.6 1915.2Z" fill="#fde8e2" stroke="#cfa9a1" stroke-width="1" stroke-linejoin="round"/><path d="M771.0 1861.0 762.6 1873.7 762.4 1873.7 733.5 1866.5 714.4 1885.6 717.5 1892.5 742.0 1901.7 748.5 1909.2 754.4 1932.5 762.7 1932.5 782.6 1925.4 795.2 1910.3 790.0 1900.0 800.5 1868.4 792.9 1856.2 791.9 1855.8 771.0 1861.0Z" fill="#fbdcd4" stroke="#cfa9a1" stroke-width="1" stroke-linejoin="round"/><path d="M827.2 1952.3 829.0 1950.0 822.9 1919.3 816.6 1915.1 795.2 1910.3 782.6 1925.4 762.7 1932.5 754.4 1932.5 744.0 1944.3 741.1 1952.5 743.0 1962.7 778.6 1974.5 786.3 1963.1 800.1 1955.0 821.3 1955.0 827.2 1952.3Z" fill="#fbdcd4" stroke="#cfa9a1" stroke-width="1" stroke-linejoin="round"/><path d="M821.3 1955.0 800.1 1955.0 786.3 1963.1 778.6 1974.5 779.3 1977.1 771.0 2002.0 772.5 2001.3 781.4 1998.6 791.4 2000.0 801.4 2007.1 812.9 2009.3 827.1 2010.0 841.4 2007.1 855.7 2002.9 870.0 1995.7 878.6 1991.4 878.9 1991.3 863.4 1950.0 829.0 1950.0 827.2 1952.3 821.3 1955.0Z" fill="#fde8e2" stroke="#cfa9a1" stroke-width="1" stroke-linejoin="round"/><path d="M795.2 1910.3 816.6 1915.1 822.9 1919.3 837.2 1910.0 843.8 1910.0 872.1 1891.1 859.4 1875.8 841.4 1878.4 835.6 1875.4 822.0 1874.2 821.4 1874.3 800.5 1868.4 790.0 1900.0 795.2 1910.3Z" fill="#fde8e2" stroke="#cfa9a1" stroke-width="1" stroke-linejoin="round"/><path d="M841.4 1878.4 859.4 1875.8 868.0 1845.9 868.0 1844.8 866.9 1839.7 842.4 1836.9 837.6 1834.9 830.1 1838.0 814.1 1839.2 792.9 1856.2 800.5 1868.4 821.4 1874.3 822.0 1874.2 835.6 1875.4 841.4 1878.4Z" fill="#fde8e2" stroke="#cfa9a1" stroke-width="1" stroke-linejoin="round"/><path d="M880.8 1821.9 866.9 1839.7 868.0 1844.8 868.0 1845.9 859.4 1875.8 872.1 1891.1 875.4 1892.7 901.1 1881.7 907.9 1881.1 908.0 1860.9 916.6 1835.3 880.8 1821.9Z" fill="#fde8e2" stroke="#cfa9a1" stroke-width="1" stroke-linejoin="round"/><path d="M930.4 1831.1 916.6 1835.3 908.0 1860.9 907.9 1881.1 915.9 1886.5 922.6 1884.4 942.4 1884.6 943.6 1885.3 959.2 1882.2 970.3 1870.5 973.4 1852.0 951.6 1849.3 940.3 1842.5 930.8 1831.4 930.4 1831.1Z" fill="#fde8e2" stroke="#cfa9a1" stroke-width="1" stroke-linejoin="round"/><path d="M843.8 1910.0 837.2 1910.0 822.9 1919.3 829.0 1950.0 863.4 1950.0 867.9 1944.9 875.4 1942.2 901.0 1946.4 917.4 1933.9 910.4 1917.5 916.3 1896.7 915.9 1886.5 907.9 1881.1 901.1 1881.7 875.4 1892.7 872.1 1891.1 843.8 1910.0Z" fill="#fbdcd4" stroke="#cfa9a1" stroke-width="1" stroke-linejoin="round"/><path d="M952.3 1907.6 943.6 1885.3 942.4 1884.6 922.6 1884.4 915.9 1886.5 916.3 1896.7 910.4 1917.5 917.4 1933.9 923.6 1936.1 939.2 1934.2 943.9 1916.2 952.1 1908.0 952.3 1907.6Z" fill="#fde8e2" stroke="#cfa9a1" stroke-width="1" stroke-linejoin="round"/><path d="M952.3 1907.6 952.1 1908.0 943.9 1916.2 939.2 1934.2 954.4 1944.1 962.9 1941.1 967.3 1941.8 986.1 1936.8 998.7 1921.0 992.9 1903.6 985.7 1904.3 974.9 1901.9 952.3 1907.6Z" fill="#fbdcd4" stroke="#cfa9a1" stroke-width="1" stroke-linejoin="round"/><path d="M867.9 1944.9 863.4 1950.0 878.9 1991.3 891.4 1985.7 905.7 1980.0 920.0 1978.6 935.6 1977.5 950.1 1974.1 951.1 1967.1 948.1 1963.4 951.7 1963.0 954.4 1944.1 939.2 1934.2 923.6 1936.1 917.4 1933.9 901.0 1946.4 875.4 1942.2 867.9 1944.9Z" fill="#fbdcd4" stroke="#cfa9a1" stroke-width="1" stroke-linejoin="round"/><path d="M998.7 1921.0 986.1 1936.8 967.3 1941.8 962.9 1941.1 954.4 1944.1 951.7 1963.0 960.6 1961.9 970.0 1963.4 979.4 1972.8 988.8 1968.1 995.0 1958.8 1004.4 1957.2 1013.8 1958.8 1022.5 1959.3 1022.5 1934.6 998.7 1921.0ZM950.1 1974.1 955.9 1972.8 951.1 1967.1 950.1 1974.1Z" fill="#fde8e2" stroke="#cfa9a1" stroke-width="1" stroke-linejoin="round"/><path d="M973.4 1852.0 970.3 1870.5 959.2 1882.2 943.6 1885.3 952.3 1907.6 974.9 1901.9 985.7 1904.3 992.9 1903.6 994.4 1900.6 1005.7 1889.3 1011.4 1863.4 1011.0 1862.0 1004.3 1853.4 987.1 1844.8 986.5 1844.7 973.4 1852.0Z" fill="#fbdcd4" stroke="#cfa9a1" stroke-width="1" stroke-linejoin="round"/><path d="M1004.3 1853.4 1011.0 1862.0 1011.4 1863.4 1005.7 1889.3 994.4 1900.6 992.9 1903.6 998.7 1921.0 1022.5 1934.6 1032.5 1927.5 1051.1 1927.5 1064.8 1920.0 1063.8 1919.7 1060.6 1913.4 1063.8 1905.6 1068.4 1896.3 1070.9 1893.9 1068.5 1889.1 1063.7 1884.2 1061.3 1869.8 1058.8 1863.8 1055.2 1857.7 1052.8 1845.7 1049.2 1839.6 1046.8 1831.2 1051.6 1830.0 1021.9 1830.0 1004.3 1853.4Z" fill="#fbdcd4" stroke="#cfa9a1" stroke-width="1" stroke-linejoin="round"/><path d="M1032.5 1927.5 1022.5 1934.6 1022.5 1959.3 1026.3 1959.5 1038.8 1961.9 1048.1 1961.9 1055.9 1957.2 1063.8 1957.2 1066.9 1968.1 1071.6 1972.8 1076.3 1968.1 1082.5 1958.8 1091.9 1954.1 1093.4 1949.4 1085.6 1943.1 1082.5 1930.6 1079.4 1925.9 1070.0 1921.3 1064.8 1920.0 1051.1 1927.5 1032.5 1927.5Z" fill="#fde8e2" stroke="#cfa9a1" stroke-width="1" stroke-linejoin="round"/><path d="M437.7 1807.2 473.0 1807.2 477.0 1811.1 482.9 1828.8 486.8 1852.3 480.9 1862.2 494.7 1867.1 506.4 1872.0 522.2 1865.1 532.0 1866.1 535.9 1860.2 547.7 1866.1 549.7 1881.8 553.6 1893.6 575.2 1885.7 573.2 1872.0 557.5 1858.2 549.7 1838.6 547.7 1824.8 559.5 1813.0 560.5 1793.4 545.7 1790.5 530.0 1775.7 512.3 1770.8 508.4 1779.6 478.9 1787.5 445.5 1785.5 436.7 1799.3 437.7 1807.2Z" fill="#f9d0c8" stroke="#cfa9a1" stroke-width="1" stroke-linejoin="round"/><path d="M471.1 1870.0 465.2 1885.7 449.5 1905.4 463.2 1925.0 457.3 1936.8 451.4 1952.5 451.4 1964.3 475.0 1978.1 488.8 1991.8 502.5 2000.0 510.4 1985.9 518.2 1974.1 537.9 1964.3 557.5 1956.5 567.4 1956.5 583.1 1984.0 600.7 1974.1 598.8 1958.4 592.9 1946.6 583.1 1934.9 553.6 1934.9 543.8 1921.1 545.7 1909.3 553.6 1893.6 549.7 1881.8 547.7 1866.1 535.9 1860.2 532.0 1866.1 522.2 1865.1 506.4 1872.0 494.7 1867.1 480.9 1862.2 471.1 1870.0Z" fill="#f9d0c8" stroke="#cfa9a1" stroke-width="1" stroke-linejoin="round"/><path d="M245.0 1848.8 242.5 1855.0 246.3 1861.3 252.5 1862.5 251.3 1865.0 243.8 1870.0 238.8 1872.5 237.5 1876.3 241.3 1882.5 245.0 1888.8 253.8 1890.0 255.0 1891.9 246.3 1892.5 236.3 1890.0 233.8 1895.0 231.3 1890.0 230.0 1882.5 226.3 1875.0 221.3 1873.8 220.0 1878.8 222.5 1885.0 220.0 1892.5 212.5 1896.3 217.5 1900.0 223.8 1905.0 228.8 1907.5 231.3 1905.0 237.5 1907.5 242.5 1912.5 248.8 1915.0 256.3 1920.0 261.3 1923.8 277.5 1921.3 302.5 1918.8 320.0 1916.3 313.8 1906.3 302.5 1902.5 292.5 1897.5 286.3 1897.5 277.5 1887.5 267.5 1882.5 262.5 1873.8 267.5 1862.5 276.9 1855.0 273.8 1833.8 267.5 1830.6 258.8 1833.8 242.5 1845.0 245.0 1848.8Z" fill="#f9d0c8" stroke="#cfa9a1" stroke-width="1" stroke-linejoin="round"/><path d="M316.5 1722.0 317.9 1735.9 325.0 1736.8 332.1 1738.6 335.7 1742.1 342.9 1743.9 353.6 1742.1 355.4 1740.0 356.0 1735.0 357.1 1728.8 339.3 1718.9 323.2 1711.8 317.9 1708.2 316.5 1722.0Z" fill="#855535" stroke="#cfa9a1" stroke-width="1" stroke-linejoin="round"/><path d="M357.8 1733.0 356.8 1740.0 355.6 1747.5 364.3 1751.0 371.4 1747.5 380.4 1750.2 383.9 1745.7 393.5 1743.9 392.9 1738.0 378.6 1735.0 358.6 1729.2 357.8 1733.0Z" fill="#855535" stroke="#cfa9a1" stroke-width="1" stroke-linejoin="round"/><path d="M616.3 1970.0 620.0 1975.0 622.5 1987.5 627.5 1993.8 623.8 2010.0 641.6 2020.8 647.5 2018.8 655.0 2015.0 656.3 2013.8 657.5 2011.3 665.0 2005.0 672.5 1996.3 677.5 1985.0 672.5 1972.5 680.0 1955.0 688.8 1952.5 690.0 1931.3 695.0 1913.8 690.0 1906.3 682.5 1908.8 677.5 1922.5 655.0 1937.5 653.8 1948.8 635.0 1946.3 617.5 1952.5 616.3 1970.0Z" fill="#fbdcd4" stroke="#cfa9a1" stroke-width="1" stroke-linejoin="round"/><path d="M244.6 1704.6 241.1 1713.6 241.1 1726.1 232.1 1736.8 225.0 1742.1 217.9 1749.3 221.4 1754.6 235.7 1757.3 248.2 1758.2 241.1 1761.8 230.4 1768.9 226.0 1772.0 221.0 1781.0 223.2 1785.0 228.6 1776.1 235.7 1770.7 242.9 1765.4 250.0 1761.8 257.1 1756.4 267.9 1751.1 276.8 1745.7 283.9 1740.4 296.4 1740.4 307.1 1738.6 317.9 1735.9 325.0 1736.8 332.1 1738.6 335.7 1742.1 342.9 1743.9 353.6 1742.1 355.4 1740.0 356.0 1735.0 357.1 1728.8 339.3 1718.9 323.2 1711.8 317.9 1708.2 314.3 1695.7 313.4 1683.2 307.1 1680.5 294.6 1683.2 285.7 1677.9 278.6 1671.6 271.4 1672.5 260.7 1676.1 246.4 1677.9 237.5 1685.0 237.5 1688.6 241.1 1695.7 244.6 1704.6ZM293.2 1760.5 289.0 1759.0 284.4 1760.0 286.0 1763.5 292.0 1763.8 293.2 1760.5ZM305.0 1776.6 305.0 1770.0 299.0 1767.8 293.0 1768.5 293.0 1772.0 298.0 1775.0 305.0 1776.6ZM204.0 1784.5 212.0 1783.5 212.5 1779.0 207.0 1777.6 201.0 1778.5 197.5 1781.0 198.5 1783.8 204.0 1784.5ZM214.2 1803.0 212.0 1801.0 209.5 1802.0 210.5 1804.5 213.0 1805.2 214.2 1803.0ZM368.6 1754.3 380.0 1757.0 392.9 1760.5 394.3 1762.9 382.9 1763.6 368.0 1761.5 352.0 1767.0 346.4 1770.7 350.0 1776.1 355.4 1779.6 342.9 1779.6 325.0 1777.9 310.7 1777.9 305.0 1777.6 293.2 1779.6 283.4 1779.6 275.5 1775.6 272.6 1769.7 263.8 1769.7 253.9 1771.2 246.1 1771.7 239.2 1776.6 229.4 1784.5 221.5 1790.4 218.6 1796.3 216.6 1804.1 215.6 1813.9 211.7 1823.8 219.6 1824.7 236.3 1823.8 251.3 1823.8 250.0 1827.5 242.5 1830.0 236.3 1837.5 241.3 1843.8 245.0 1848.8 242.5 1855.0 246.3 1861.3 252.5 1862.5 251.3 1865.0 243.8 1870.0 238.8 1872.5 237.5 1876.3 241.3 1882.5 245.0 1888.8 253.8 1890.0 255.0 1891.9 246.3 1892.5 236.3 1890.0 233.8 1895.0 231.3 1890.0 230.0 1882.5 226.3 1875.0 221.3 1873.8 220.0 1878.8 222.5 1885.0 220.0 1892.5 212.5 1896.3 217.5 1900.0 223.8 1905.0 228.8 1907.5 231.3 1905.0 237.5 1907.5 242.5 1912.5 248.8 1915.0 256.3 1920.0 257.5 1927.5 255.0 1932.5 247.5 1936.3 251.4 1940.0 252.9 1948.6 254.3 1955.7 262.9 1957.1 268.6 1962.9 270.0 1967.1 258.6 1970.0 254.3 1972.9 253.6 1978.6 261.4 1980.0 275.7 1980.0 290.0 1980.7 302.9 1980.7 294.3 1984.3 290.0 1987.1 287.1 1992.9 277.1 1992.9 265.7 1992.1 257.1 1996.4 265.7 1998.6 277.1 1997.1 287.1 1997.1 285.7 2005.7 291.4 2005.7 297.1 1997.1 302.9 1992.9 311.4 1991.4 317.1 1997.1 322.9 2001.4 328.6 2007.1 334.3 2001.4 340.0 2007.1 338.6 2014.3 342.9 2022.9 351.4 2030.0 362.9 2035.7 368.6 2038.6 370.0 2036.4 381.4 2033.6 391.4 2031.4 401.4 2035.0 405.7 2029.3 408.6 2020.7 411.4 2009.3 412.9 2000.7 417.1 1997.9 427.1 1998.6 438.6 2000.0 450.0 2003.6 461.4 2010.7 472.9 2016.4 481.4 2020.7 488.6 2029.3 495.7 2037.9 504.3 2045.0 507.5 2047.6 515.5 2050.8 526.8 2047.6 539.6 2046.0 552.5 2045.2 562.1 2042.0 571.8 2038.8 578.2 2033.9 581.4 2029.1 587.9 2021.1 600.7 2011.4 610.4 2006.6 620.0 2005.8 623.8 2010.0 640.0 2021.3 647.5 2018.8 655.0 2015.0 658.8 2011.3 665.0 2008.8 670.0 2001.3 675.0 1999.4 680.0 2001.3 683.8 2008.8 683.8 2017.5 676.3 2022.5 670.0 2027.5 663.8 2035.0 667.5 2042.5 672.5 2052.5 671.3 2058.8 677.5 2062.5 681.3 2065.0 682.5 2061.3 687.5 2055.0 691.3 2053.8 692.5 2042.5 701.3 2040.0 706.3 2038.8 705.0 2032.5 701.3 2026.3 702.5 2016.3 705.0 2005.0 715.0 2007.5 727.5 2012.5 736.3 2015.0 743.8 2013.8 752.5 2008.8 765.0 2005.0 772.5 2001.3 781.4 1998.6 791.4 2000.0 801.4 2007.1 812.9 2009.3 827.1 2010.0 841.4 2007.1 855.7 2002.9 870.0 1995.7 878.6 1991.4 891.4 1985.7 905.7 1980.0 920.0 1978.6 935.6 1977.5 955.9 1972.8 948.1 1963.4 960.6 1961.9 970.0 1963.4 979.4 1972.8 988.8 1968.1 995.0 1958.8 1004.4 1957.2 1013.8 1958.8 1026.3 1959.5 1038.8 1961.9 1048.1 1961.9 1055.9 1957.2 1063.8 1957.2 1066.9 1968.1 1071.6 1972.8 1076.3 1968.1 1082.5 1958.8 1091.9 1954.1 1093.4 1949.4 1085.6 1943.1 1082.5 1930.6 1079.4 1925.9 1070.0 1921.3 1063.8 1919.7 1060.6 1913.4 1063.8 1905.6 1068.4 1896.3 1070.9 1893.9 1068.5 1889.1 1063.7 1884.2 1061.3 1869.8 1058.8 1863.8 1055.2 1857.7 1052.8 1845.7 1049.2 1839.6 1046.8 1831.2 1056.4 1828.8 1062.5 1825.2 1063.7 1815.5 1064.9 1811.9 1072.1 1809.5 1079.3 1810.7 1070.9 1801.1 1063.7 1793.8 1056.4 1790.2 1044.4 1791.4 1027.5 1789.0 1025.1 1784.2 1021.5 1777.0 1019.1 1767.3 1021.5 1762.5 1023.9 1752.9 1021.5 1745.6 1016.7 1737.2 1009.4 1731.2 1005.8 1725.1 996.2 1719.1 984.1 1713.1 978.1 1708.3 978.1 1704.0 969.3 1705.0 962.9 1710.4 945.7 1711.4 932.9 1712.5 920.0 1713.6 911.4 1722.1 902.9 1727.5 890.0 1735.0 877.1 1741.4 864.3 1746.8 851.4 1748.9 836.4 1745.7 827.9 1742.5 815.0 1744.6 795.7 1750.0 782.9 1753.2 767.9 1754.3 752.9 1748.9 748.6 1744.6 740.0 1746.8 720.4 1742.4 714.3 1736.0 704.3 1734.3 697.1 1731.4 682.9 1730.0 674.3 1715.7 668.6 1709.4 657.1 1711.4 645.7 1712.9 637.1 1698.6 635.7 1691.4 625.7 1687.7 620.0 1691.4 605.7 1694.3 588.6 1695.7 568.6 1691.4 548.6 1692.9 528.6 1698.6 514.3 1702.9 500.0 1714.3 494.3 1718.6 482.9 1725.7 468.6 1730.0 462.9 1732.9 460.0 1738.6 452.9 1742.1 442.9 1742.9 431.4 1740.7 420.0 1737.9 411.4 1735.0 401.4 1737.1 392.9 1738.0 378.6 1735.0 358.5 1729.0 357.5 1733.0 355.4 1747.5 364.3 1751.0 368.6 1754.3Z" fill="none" stroke="#dcb8b0" stroke-width="0.8"/><text x="229.5" y="1728.0" text-anchor="middle" style="font-family:Liberation Sans,sans-serif;fill:#7d7775;font-size:12px;letter-spacing:0.1px">Edirne</text><text x="288.4" y="1699.0" text-anchor="middle" style="font-family:Liberation Sans,sans-serif;fill:#7d7775;font-size:12px;letter-spacing:0.1px">Kırklareli</text><text x="279.8" y="1735.2" text-anchor="middle" style="font-family:Liberation Sans,sans-serif;fill:#7d7775;font-size:12px;letter-spacing:0.1px">Tekirdag</text><text x="375.5" y="1721.8" text-anchor="middle" style="font-family:Liberation Sans,sans-serif;fill:#7d7775;font-size:14.5px">İstanbul</text><text x="407.6" y="1751.2" text-anchor="middle" style="font-family:Liberation Sans,sans-serif;fill:#7d7775;font-size:12px;letter-spacing:0.1px">Kocaeli</text><text x="367.4" y="1769.5" text-anchor="middle" style="font-family:Liberation Sans,sans-serif;fill:#7d7775;font-size:12px;letter-spacing:0.1px">Yalova</text><text x="427.2" y="1768.7" text-anchor="middle" style="font-family:Liberation Sans,sans-serif;fill:#7d7775;font-size:12px;letter-spacing:0.1px">Sakarya</text><text x="458.5" y="1755.2" text-anchor="middle" style="font-family:Liberation Sans,sans-serif;fill:#7d7775;font-size:12px;letter-spacing:0.1px">Düzce</text><text x="469.2" y="1729.8" text-anchor="middle" style="font-family:Liberation Sans,sans-serif;fill:#7d7775;font-size:12px;letter-spacing:0.1px">Zinguldak</text><text x="504.3" y="1712.2" text-anchor="middle" style="font-family:Liberation Sans,sans-serif;fill:#7d7775;font-size:12px;letter-spacing:0.1px">Bartın</text><text x="521.4" y="1745.1000000000001" text-anchor="middle" style="font-family:Liberation Sans,sans-serif;fill:#7d7775;font-size:12px;letter-spacing:0.1px">Karabük</text><text x="569.4" y="1720.5" text-anchor="middle" style="font-family:Liberation Sans,sans-serif;fill:#7d7775;font-size:12px;letter-spacing:0.1px">Kastamonu</text><text x="625.1" y="1709.2" text-anchor="middle" style="font-family:Liberation Sans,sans-serif;fill:#7d7775;font-size:12px;letter-spacing:0.1px">Sinop</text><text x="680.9" y="1737.9" text-anchor="middle" style="font-family:Liberation Sans,sans-serif;fill:#7d7775;font-size:12px;letter-spacing:0.1px">Samsun</text><text x="482.9" y="1773.3" text-anchor="middle" style="font-family:Liberation Sans,sans-serif;fill:#7d7775;font-size:12px;letter-spacing:0.1px">Bolu</text><text x="552.9" y="1773.6000000000001" text-anchor="middle" style="font-family:Liberation Sans,sans-serif;fill:#7d7775;font-size:12px;letter-spacing:0.1px">Çankırı</text><text x="610.6" y="1783.3" text-anchor="middle" style="font-family:Liberation Sans,sans-serif;fill:#7d7775;font-size:12px;letter-spacing:0.1px">Çorum</text><text x="664.9" y="1773.6000000000001" text-anchor="middle" style="font-family:Liberation Sans,sans-serif;fill:#7d7775;font-size:12px;letter-spacing:0.1px">Amasya</text><text x="704.3" y="1784.2" text-anchor="middle" style="font-family:Liberation Sans,sans-serif;fill:#7d7775;font-size:12px;letter-spacing:0.1px">Tokat</text><text x="741.4" y="1764.2" text-anchor="middle" style="font-family:Liberation Sans,sans-serif;fill:#7d7775;font-size:12px;letter-spacing:0.1px">Ordu</text><text x="787.5" y="1775.9" text-anchor="middle" style="font-family:Liberation Sans,sans-serif;fill:#7d7775;font-size:12px;letter-spacing:0.1px">Giresun</text><text x="846.9" y="1759.8" text-anchor="middle" style="font-family:Liberation Sans,sans-serif;fill:#7d7775;font-size:12px;letter-spacing:0.1px">Trabzon</text><text x="891.1" y="1748.6000000000001" text-anchor="middle" style="font-family:Liberation Sans,sans-serif;fill:#7d7775;font-size:12px;letter-spacing:0.1px">Rize</text><text x="936.5" y="1737.7" text-anchor="middle" style="font-family:Liberation Sans,sans-serif;fill:#7d7775;font-size:12px;letter-spacing:0.1px">Artvin</text><text x="997.6" y="1722.5" text-anchor="middle" style="font-family:Liberation Sans,sans-serif;fill:#7d7775;font-size:12px;letter-spacing:0.1px">Ardahan</text><text x="996.8" y="1773.5" text-anchor="middle" style="font-family:Liberation Sans,sans-serif;fill:#7d7775;font-size:12px;letter-spacing:0.1px">Kars</text><text x="1041.8" y="1807.6000000000001" text-anchor="middle" style="font-family:Liberation Sans,sans-serif;fill:#7d7775;font-size:12px;letter-spacing:0.1px">Iğdır</text><text x="994.8" y="1819.7" text-anchor="middle" style="font-family:Liberation Sans,sans-serif;fill:#7d7775;font-size:12px;letter-spacing:0.1px">Agri</text><text x="937.3" y="1805.6000000000001" text-anchor="middle" style="font-family:Liberation Sans,sans-serif;fill:#7d7775;font-size:12px;letter-spacing:0.1px">Erzurum</text><text x="873.8" y="1790.0" text-anchor="middle" style="font-family:Liberation Sans,sans-serif;fill:#7d7775;font-size:12px;letter-spacing:0.1px">Bayburt</text><text x="832" y="1799.6000000000001" text-anchor="middle" style="font-family:Liberation Sans,sans-serif;fill:#7d7775;font-size:12px;letter-spacing:0.1px">Gümüşhane</text><text x="817.6" y="1826.9" text-anchor="middle" style="font-family:Liberation Sans,sans-serif;fill:#7d7775;font-size:12px;letter-spacing:0.1px">Erzincan</text><text x="735.6" y="1838.2" text-anchor="middle" style="font-family:Liberation Sans,sans-serif;fill:#7d7775;font-size:12px;letter-spacing:0.1px">Sivas</text><text x="645" y="1839.0" text-anchor="middle" style="font-family:Liberation Sans,sans-serif;fill:#7d7775;font-size:12px;letter-spacing:0.1px">Yozgat</text><text x="571.6" y="1826.9" text-anchor="middle" style="font-family:Liberation Sans,sans-serif;fill:#7d7775;font-size:12px;letter-spacing:0.1px">Kırıkkale</text><text x="583.7" y="1855.0" text-anchor="middle" style="font-family:Liberation Sans,sans-serif;fill:#7d7775;font-size:12px;letter-spacing:0.1px">Kırşehir</text><text x="515.4" y="1823.7" text-anchor="middle" style="font-family:Liberation Sans,sans-serif;fill:#7d7775;font-size:14.5px">Ankara</text><text x="454.5" y="1832.4" text-anchor="middle" style="font-family:Liberation Sans,sans-serif;fill:#7d7775;font-size:12px;letter-spacing:0.1px">Eskişehir</text><text x="403" y="1802.2" text-anchor="middle" style="font-family:Liberation Sans,sans-serif;fill:#7d7775;font-size:12px;letter-spacing:0.1px">Bilecik</text><text x="352.7" y="1802.7" text-anchor="middle" style="font-family:Liberation Sans,sans-serif;fill:#7d7775;font-size:12px;letter-spacing:0.1px">Bursa</text><text x="244.2" y="1796.8" text-anchor="middle" style="font-family:Liberation Sans,sans-serif;fill:#7d7775;font-size:12px;letter-spacing:0.1px">Çanakkale</text><text x="295.1" y="1824.2" text-anchor="middle" style="font-family:Liberation Sans,sans-serif;fill:#7d7775;font-size:12px;letter-spacing:0.1px">Balikesir</text><text x="382.2" y="1848.0" text-anchor="middle" style="font-family:Liberation Sans,sans-serif;fill:#7d7775;font-size:12px;letter-spacing:0.1px">Kütahya</text><text x="312.5" y="1879.8" text-anchor="middle" style="font-family:Liberation Sans,sans-serif;fill:#7d7775;font-size:12px;letter-spacing:0.1px">Manisa</text><text x="262.1" y="1904.7" text-anchor="middle" style="font-family:Liberation Sans,sans-serif;fill:#7d7775;font-size:12px;letter-spacing:0.1px">Izmir</text><text x="362.1" y="1895.2" text-anchor="middle" style="font-family:Liberation Sans,sans-serif;fill:#7d7775;font-size:12px;letter-spacing:0.1px">Uşak</text><text x="430.4" y="1895.2" text-anchor="middle" style="font-family:Liberation Sans,sans-serif;fill:#7d7775;font-size:12px;letter-spacing:0.1px">Afyonkarahisar</text><text x="295.1" y="1937.3" text-anchor="middle" style="font-family:Liberation Sans,sans-serif;fill:#7d7775;font-size:12px;letter-spacing:0.1px">Aydın</text><text x="354.8" y="1935.5" text-anchor="middle" style="font-family:Liberation Sans,sans-serif;fill:#7d7775;font-size:12px;letter-spacing:0.1px">Denizli</text><text x="429.8" y="1934.7" text-anchor="middle" style="font-family:Liberation Sans,sans-serif;fill:#7d7775;font-size:12px;letter-spacing:0.1px">Isparta</text><text x="393.4" y="1960.4" text-anchor="middle" style="font-family:Liberation Sans,sans-serif;fill:#7d7775;font-size:12px;letter-spacing:0.1px">Burdur</text><text x="308" y="1978.9" text-anchor="middle" style="font-family:Liberation Sans,sans-serif;fill:#7d7775;font-size:12px;letter-spacing:0.1px">Muğla</text><text x="401.4" y="1996.3" text-anchor="middle" style="font-family:Liberation Sans,sans-serif;fill:#7d7775;font-size:12px;letter-spacing:0.1px">Antalya</text><text x="508.6" y="1926.6000000000001" text-anchor="middle" style="font-family:Liberation Sans,sans-serif;fill:#7d7775;font-size:12px;letter-spacing:0.1px">Konya</text><text x="547.5" y="1983.6000000000001" text-anchor="middle" style="font-family:Liberation Sans,sans-serif;fill:#7d7775;font-size:12px;letter-spacing:0.1px">Karaman</text><text x="572.4" y="2014.5" text-anchor="middle" style="font-family:Liberation Sans,sans-serif;fill:#7d7775;font-size:12px;letter-spacing:0.1px">Mersin</text><text x="573.6" y="1913.3" text-anchor="middle" style="font-family:Liberation Sans,sans-serif;fill:#7d7775;font-size:12px;letter-spacing:0.1px">Aksaray</text><text x="613.8" y="1887.2" text-anchor="middle" style="font-family:Liberation Sans,sans-serif;fill:#7d7775;font-size:12px;letter-spacing:0.1px">Nevsehir</text><text x="611.8" y="1936.2" text-anchor="middle" style="font-family:Liberation Sans,sans-serif;fill:#7d7775;font-size:12px;letter-spacing:0.1px">Nigde</text><text x="664.9" y="1898.4" text-anchor="middle" style="font-family:Liberation Sans,sans-serif;fill:#7d7775;font-size:12px;letter-spacing:0.1px">Kayseri</text><text x="645" y="1970.7" text-anchor="middle" style="font-family:Liberation Sans,sans-serif;fill:#7d7775;font-size:12px;letter-spacing:0.1px">Adana</text><text x="694.2" y="1983.6000000000001" text-anchor="middle" style="font-family:Liberation Sans,sans-serif;fill:#7d7775;font-size:12px;letter-spacing:0.1px">Osmaniye</text><text x="686.2" y="2036.6000000000001" text-anchor="middle" style="font-family:Liberation Sans,sans-serif;fill:#7d7775;font-size:12px;letter-spacing:0.1px">Hatay</text><text x="726.4" y="2014.7" text-anchor="middle" style="font-family:Liberation Sans,sans-serif;fill:#7d7775;font-size:12px;letter-spacing:0.1px">Kilis</text><text x="742.5" y="1996.5" text-anchor="middle" style="font-family:Liberation Sans,sans-serif;fill:#7d7775;font-size:12px;letter-spacing:0.1px">Gaziantep</text><text x="717.1" y="1940.6000000000001" text-anchor="middle" style="font-family:Liberation Sans,sans-serif;fill:#7d7775;font-size:12px;letter-spacing:0.1px">K. Maras</text><text x="761.7" y="1896.4" text-anchor="middle" style="font-family:Liberation Sans,sans-serif;fill:#7d7775;font-size:12px;letter-spacing:0.1px">Malatya</text><text x="782.6" y="1949.5" text-anchor="middle" style="font-family:Liberation Sans,sans-serif;fill:#7d7775;font-size:12px;letter-spacing:0.1px">Adiyaman</text><text x="822.8" y="1988.4" text-anchor="middle" style="font-family:Liberation Sans,sans-serif;fill:#7d7775;font-size:12px;letter-spacing:0.1px">Sanliurfa</text><text x="828.8" y="1896.4" text-anchor="middle" style="font-family:Liberation Sans,sans-serif;fill:#7d7775;font-size:12px;letter-spacing:0.1px">Elazığ</text><text x="832" y="1861.9" text-anchor="middle" style="font-family:Liberation Sans,sans-serif;fill:#7d7775;font-size:12px;letter-spacing:0.1px">Tunceli</text><text x="891.1" y="1863.9" text-anchor="middle" style="font-family:Liberation Sans,sans-serif;fill:#7d7775;font-size:12px;letter-spacing:0.1px">Bingöl</text><text x="938.5" y="1869.9" text-anchor="middle" style="font-family:Liberation Sans,sans-serif;fill:#7d7775;font-size:12px;letter-spacing:0.1px">Mus</text><text x="875" y="1923.3" text-anchor="middle" style="font-family:Liberation Sans,sans-serif;fill:#7d7775;font-size:12px;letter-spacing:0.1px">Diyarbakır</text><text x="938.1" y="1907.7" text-anchor="middle" style="font-family:Liberation Sans,sans-serif;fill:#7d7775;font-size:12px;letter-spacing:0.1px">Batman</text><text x="956.6" y="1926.2" text-anchor="middle" style="font-family:Liberation Sans,sans-serif;fill:#7d7775;font-size:12px;letter-spacing:0.1px">Siirt</text><text x="915.2" y="1960.7" text-anchor="middle" style="font-family:Liberation Sans,sans-serif;fill:#7d7775;font-size:12px;letter-spacing:0.1px">Mardin</text><text x="982.3" y="1956.7" text-anchor="middle" style="font-family:Liberation Sans,sans-serif;fill:#7d7775;font-size:12px;letter-spacing:0.1px">Şırnak</text><text x="971.5" y="1890.0" text-anchor="middle" style="font-family:Liberation Sans,sans-serif;fill:#7d7775;font-size:12px;letter-spacing:0.1px">Bitlis</text><text x="1030.5" y="1889.2" text-anchor="middle" style="font-family:Liberation Sans,sans-serif;fill:#7d7775;font-size:12px;letter-spacing:0.1px">Van</text><text x="1062.7" y="1946.2" text-anchor="middle" style="font-family:Liberation Sans,sans-serif;fill:#7d7775;font-size:12px;letter-spacing:0.1px">Hakkari</text><line x1="65" y1="2077.3" x2="994" y2="2077.3" stroke="#2f3540" stroke-width="1.4"/><text x="65" y="2098" style="font-family:Liberation Sans,sans-serif;font-size:10px;fill:#444">01.04.2020</text><path d="M1010.3 2062.3 A17.1 17.1 0 1 1 1043.5 2062.3" fill="none" stroke="#1f2d4e" stroke-width="2.8"/><g transform="translate(995 2035) scale(0.05804)" stroke="#1f2d4e" fill="none" stroke-linecap="butt"><path d="M300 590 L440 295" stroke-width="58"/><path d="M425 300 L560 300" stroke-width="52"/><path d="M535 275 L535 590" stroke-width="50"/><path d="M370 472 L535 472" stroke-width="42"/><path d="M600 275 L600 590" stroke-width="50"/><path d="M600 300 L700 300" stroke-width="52"/><path d="M690 295 L825 590" stroke-width="58"/><path d="M600 472 L765 472" stroke-width="42"/></g><text x="1027.2" y="2080.9" text-anchor="middle" style="font-family:Liberation Sans,sans-serif;font-weight:bold;font-size:8.6px;fill:#1f2d4e" textLength="53.4" lengthAdjust="spacingAndGlyphs">ANADOLU AJANSI</text><text x="1011.6" y="2096.2" style="font-family:Liberation Sans,sans-serif;font-size:13.5px;fill:#e0243e" textLength="20.5" lengthAdjust="spacingAndGlyphs">100</text><text x="1031.6" y="2093.2" style="font-family:Liberation Sans,sans-serif;font-style:italic;font-size:6.5px;fill:#e0243e">&#8226;yıl</text><text x="1032.7" y="2100.6" style="font-family:Liberation Sans,sans-serif;font-size:3.6px;fill:#e0243e" textLength="20" lengthAdjust="spacingAndGlyphs">1920-2020</text></svg></div></body></html>
